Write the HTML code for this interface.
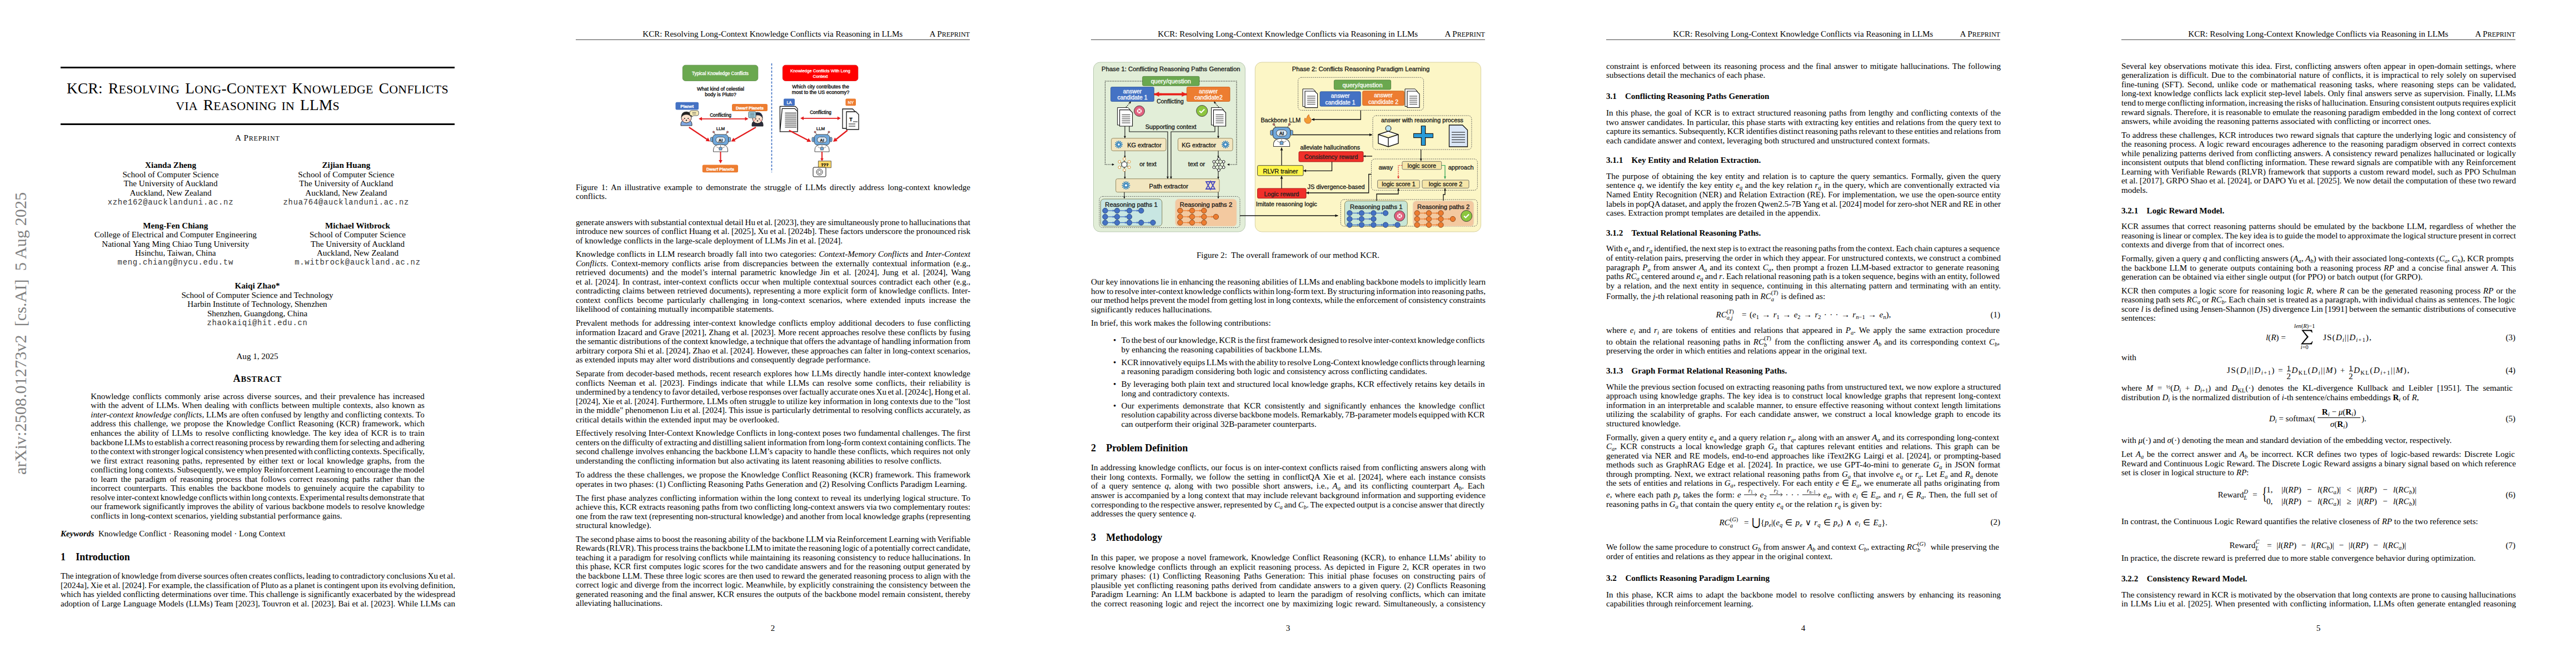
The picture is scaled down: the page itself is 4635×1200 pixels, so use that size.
<!DOCTYPE html><html><head><meta charset="utf-8"><style>
html,body{margin:0;padding:0;background:#fff;}
body{width:4635px;height:1200px;position:relative;overflow:hidden;color:#000;font-family:"Liberation Serif",serif;}
.L{position:absolute;white-space:nowrap;line-height:20px;}
.sc{font-size:80%;}
sub{font-size:70%;vertical-align:-0.25em;line-height:0}
sup{font-size:70%;vertical-align:0.45em;line-height:0}

</style></head><body>
<div class="L" style="top:148.89px;font-size:27.3px;left:463.50px;width:0;display:flex;justify-content:center;word-spacing:3px;letter-spacing:0.3px"><span>KCR: R<span class="sc">ESOLVING</span> L<span class="sc">ONG</span>-C<span class="sc">ONTEXT</span> K<span class="sc">NOWLEDGE</span> C<span class="sc">ONFLICTS</span></span></div>
<div class="L" style="top:178.89px;font-size:27.3px;left:463.50px;width:0;display:flex;justify-content:center;word-spacing:3px;letter-spacing:0.25px"><span><span class="sc">VIA</span> R<span class="sc">EASONING IN</span> LLM<span class="sc">S</span></span></div>
<div class="L" style="top:237.91px;font-size:15.1px;left:463.30px;width:0;display:flex;justify-content:center;letter-spacing:0.8px"><span>A P<span class="sc">REPRINT</span></span></div>
<div class="L" style="top:287.01px;font-size:15.1px;left:307.00px;width:0;display:flex;justify-content:center;"><span><b>Xianda Zheng</b></span></div>
<div class="L" style="top:303.56px;font-size:15.1px;left:307.00px;width:0;display:flex;justify-content:center;"><span>School of Computer Science</span></div>
<div class="L" style="top:320.11px;font-size:15.1px;left:307.00px;width:0;display:flex;justify-content:center;"><span>The University of Auckland</span></div>
<div class="L" style="top:336.66px;font-size:15.1px;left:307.00px;width:0;display:flex;justify-content:center;"><span>Auckland, New Zealand</span></div>
<div class="L" style="top:354.63px;font-size:13.8px;left:307.00px;width:0;display:flex;justify-content:center;font-family:'Liberation Mono', monospace;color:#333;letter-spacing:0.78px"><span>xzhe162@aucklanduni.ac.nz</span></div>
<div class="L" style="top:287.01px;font-size:15.1px;left:622.80px;width:0;display:flex;justify-content:center;"><span><b>Zijian Huang</b></span></div>
<div class="L" style="top:303.56px;font-size:15.1px;left:622.80px;width:0;display:flex;justify-content:center;"><span>School of Computer Science</span></div>
<div class="L" style="top:320.11px;font-size:15.1px;left:622.80px;width:0;display:flex;justify-content:center;"><span>The University of Auckland</span></div>
<div class="L" style="top:336.66px;font-size:15.1px;left:622.80px;width:0;display:flex;justify-content:center;"><span>Auckland, New Zealand</span></div>
<div class="L" style="top:354.63px;font-size:13.8px;left:622.80px;width:0;display:flex;justify-content:center;font-family:'Liberation Mono', monospace;color:#333;letter-spacing:0.78px"><span>zhua764@aucklanduni.ac.nz</span></div>
<div class="L" style="top:395.81px;font-size:15.1px;left:315.80px;width:0;display:flex;justify-content:center;"><span><b>Meng-Fen Chiang</b></span></div>
<div class="L" style="top:412.36px;font-size:15.1px;left:315.80px;width:0;display:flex;justify-content:center;"><span>College of Electrical and Computer Engineering</span></div>
<div class="L" style="top:428.91px;font-size:15.1px;left:315.80px;width:0;display:flex;justify-content:center;"><span>National Yang Ming Chiao Tung University</span></div>
<div class="L" style="top:445.46px;font-size:15.1px;left:315.80px;width:0;display:flex;justify-content:center;"><span>Hsinchu, Taiwan, China</span></div>
<div class="L" style="top:463.43px;font-size:13.8px;left:315.80px;width:0;display:flex;justify-content:center;font-family:'Liberation Mono', monospace;color:#333;letter-spacing:0.78px"><span>meng.chiang@nycu.edu.tw</span></div>
<div class="L" style="top:395.81px;font-size:15.1px;left:643.50px;width:0;display:flex;justify-content:center;"><span><b>Michael Witbrock</b></span></div>
<div class="L" style="top:412.36px;font-size:15.1px;left:643.50px;width:0;display:flex;justify-content:center;"><span>School of Computer Science</span></div>
<div class="L" style="top:428.91px;font-size:15.1px;left:643.50px;width:0;display:flex;justify-content:center;"><span>The University of Auckland</span></div>
<div class="L" style="top:445.46px;font-size:15.1px;left:643.50px;width:0;display:flex;justify-content:center;"><span>Auckland, New Zealand</span></div>
<div class="L" style="top:463.43px;font-size:13.8px;left:643.50px;width:0;display:flex;justify-content:center;font-family:'Liberation Mono', monospace;color:#333;letter-spacing:0.78px"><span>m.witbrock@auckland.ac.nz</span></div>
<div class="L" style="top:504.11px;font-size:15.1px;left:463.00px;width:0;display:flex;justify-content:center;"><span><b>Kaiqi Zhao*</b></span></div>
<div class="L" style="top:520.66px;font-size:15.1px;left:463.00px;width:0;display:flex;justify-content:center;"><span>School of Computer Science and Technology</span></div>
<div class="L" style="top:537.21px;font-size:15.1px;left:463.00px;width:0;display:flex;justify-content:center;"><span>Harbin Institute of Technology, Shenzhen</span></div>
<div class="L" style="top:553.76px;font-size:15.1px;left:463.00px;width:0;display:flex;justify-content:center;"><span>Shenzhen, Guangdong, China</span></div>
<div class="L" style="top:571.73px;font-size:13.8px;left:463.00px;width:0;display:flex;justify-content:center;font-family:'Liberation Mono', monospace;color:#333;letter-spacing:0.78px"><span>zhaokaiqi@hit.edu.cn</span></div>
<div class="L" style="top:631.11px;font-size:15.1px;left:463.00px;width:0;display:flex;justify-content:center;"><span>Aug 1, 2025</span></div>
<div class="L" style="top:671.23px;font-size:18px;left:463.30px;width:0;display:flex;justify-content:center;font-weight:bold;letter-spacing:0.8px"><span>A<span class="sc">BSTRACT</span></span></div>
<div class="L" style="top:702.81px;font-size:15.1px;left:163.30px;word-spacing:2.010px;"><span>Knowledge conflicts commonly arise across diverse sources, and their prevalence has increased</span></div>
<div class="L" style="top:719.36px;font-size:15.1px;left:163.30px;word-spacing:1.174px;"><span>with the advent of LLMs. When dealing with conflicts between multiple contexts, also known as</span></div>
<div class="L" style="top:735.91px;font-size:15.1px;left:163.30px;word-spacing:0.018px;"><span><i>inter-context knowledge conflicts</i>, LLMs are often confused by lengthy and conflicting contexts. To</span></div>
<div class="L" style="top:752.46px;font-size:15.1px;left:163.30px;word-spacing:1.432px;"><span>address this challenge, we propose the Knowledge Conflict Reasoning (KCR) framework, which</span></div>
<div class="L" style="top:769.01px;font-size:15.1px;left:163.30px;word-spacing:1.474px;"><span>enhances the ability of LLMs to resolve conflicting knowledge. The key idea of KCR is to train</span></div>
<div class="L" style="top:785.56px;font-size:15.1px;left:163.30px;word-spacing:-1.237px;"><span>backbone LLMs to establish a correct reasoning process by rewarding them for selecting and adhering</span></div>
<div class="L" style="top:802.11px;font-size:15.1px;left:163.30px;word-spacing:-1.573px;"><span>to the context with stronger logical consistency when presented with conflicting contexts. Specifically,</span></div>
<div class="L" style="top:818.66px;font-size:15.1px;left:163.30px;word-spacing:2.058px;"><span>we first extract reasoning paths, represented by either text or local knowledge graphs, from the</span></div>
<div class="L" style="top:835.21px;font-size:15.1px;left:163.30px;word-spacing:-0.763px;"><span>conflicting long contexts. Subsequently, we employ Reinforcement Learning to encourage the model</span></div>
<div class="L" style="top:851.76px;font-size:15.1px;left:163.30px;word-spacing:2.416px;"><span>to learn the paradigm of reasoning process that follows correct reasoning paths rather than the</span></div>
<div class="L" style="top:868.31px;font-size:15.1px;left:163.30px;word-spacing:2.180px;"><span>incorrect counterparts. This enables the backbone models to genuinely acquire the capability to</span></div>
<div class="L" style="top:884.86px;font-size:15.1px;left:163.30px;word-spacing:-1.244px;"><span>resolve inter-context knowledge conflicts within long contexts. Experimental results demonstrate that</span></div>
<div class="L" style="top:901.41px;font-size:15.1px;left:163.30px;word-spacing:0.021px;"><span>our framework significantly improves the ability of various backbone models to resolve knowledge</span></div>
<div class="L" style="top:917.96px;font-size:15.1px;left:163.30px;"><span>conflicts in long-context scenarios, yielding substantial performance gains.</span></div>
<div class="L" style="top:949.91px;font-size:15.1px;left:109.00px;"><span><b><i>Keywords</i></b>&nbsp; Knowledge Conflict · Reasoning model · Long Context</span></div>
<div class="L" style="top:991.53px;font-size:18px;left:109.00px;"><span><b>1</b></span></div>
<div class="L" style="top:991.53px;font-size:18px;left:136.20px;"><span><b>Introduction</b></span></div>
<div class="L" style="top:1026.01px;font-size:15.1px;left:109.00px;word-spacing:-1.049px;"><span>The integration of knowledge from diverse sources often creates conflicts, leading to contradictory conclusions Xu et al.</span></div>
<div class="L" style="top:1042.51px;font-size:15.1px;left:109.00px;word-spacing:-0.623px;"><span>[2024a], Xie et al. [2024]. For example, the classification of Pluto as a planet is contingent upon its evolving definition,</span></div>
<div class="L" style="top:1059.01px;font-size:15.1px;left:109.00px;word-spacing:-0.071px;"><span>which has yielded conflicting determinations over time. This challenge is significantly exacerbated by the widespread</span></div>
<div class="L" style="top:1075.51px;font-size:15.1px;left:109.00px;word-spacing:0.339px;"><span>adoption of Large Language Models (LLMs) Team [2023], Touvron et al. [2023], Bai et al. [2023]. While LLMs can</span></div>
<div class="L" style="top:50.61px;font-size:15.1px;left:1390.25px;width:0;display:flex;justify-content:center;"><span>KCR: Resolving Long-Context Knowledge Conflicts via Reasoning in LLMs</span></div>
<div class="L" style="top:50.61px;font-size:15.1px;right:2890.00px;"><span>A P<span class="sc">REPRINT</span></span></div>
<div class="L" style="top:1119.81px;font-size:15.1px;left:1390.50px;width:0;display:flex;justify-content:center;"><span>2</span></div>
<div class="L" style="top:50.61px;font-size:15.1px;left:2317.25px;width:0;display:flex;justify-content:center;"><span>KCR: Resolving Long-Context Knowledge Conflicts via Reasoning in LLMs</span></div>
<div class="L" style="top:50.61px;font-size:15.1px;right:1963.00px;"><span>A P<span class="sc">REPRINT</span></span></div>
<div class="L" style="top:1119.81px;font-size:15.1px;left:2317.50px;width:0;display:flex;justify-content:center;"><span>3</span></div>
<div class="L" style="top:50.61px;font-size:15.1px;left:3244.25px;width:0;display:flex;justify-content:center;"><span>KCR: Resolving Long-Context Knowledge Conflicts via Reasoning in LLMs</span></div>
<div class="L" style="top:50.61px;font-size:15.1px;right:1036.00px;"><span>A P<span class="sc">REPRINT</span></span></div>
<div class="L" style="top:1119.81px;font-size:15.1px;left:3244.50px;width:0;display:flex;justify-content:center;"><span>4</span></div>
<div class="L" style="top:50.61px;font-size:15.1px;left:4171.25px;width:0;display:flex;justify-content:center;"><span>KCR: Resolving Long-Context Knowledge Conflicts via Reasoning in LLMs</span></div>
<div class="L" style="top:50.61px;font-size:15.1px;right:109.00px;"><span>A P<span class="sc">REPRINT</span></span></div>
<div class="L" style="top:1119.81px;font-size:15.1px;left:4171.50px;width:0;display:flex;justify-content:center;"><span>5</span></div>
<div class="L" style="top:326.71px;font-size:15.1px;left:1036.00px;word-spacing:2.569px;"><span>Figure 1: An illustrative example to demonstrate the struggle of LLMs directly address long-context knowledge</span></div>
<div class="L" style="top:343.21px;font-size:15.1px;left:1036.00px;"><span>conflicts.</span></div>
<div class="L" style="top:389.71px;font-size:15.1px;left:1036.00px;word-spacing:-0.946px;"><span>generate answers with substantial contextual detail Hu et al. [2023], they are simultaneously prone to hallucinations that</span></div>
<div class="L" style="top:406.21px;font-size:15.1px;left:1036.00px;word-spacing:-0.265px;"><span>introduce new sources of conflict Huang et al. [2025], Xu et al. [2024b]. These factors underscore the pronounced risk</span></div>
<div class="L" style="top:422.71px;font-size:15.1px;left:1036.00px;"><span>of knowledge conflicts in the large-scale deployment of LLMs Jin et al. [2024].</span></div>
<div class="L" style="top:447.01px;font-size:15.1px;left:1036.00px;word-spacing:0.631px;"><span>Knowledge conflicts in LLM research broadly fall into two categories: <i>Context-Memory Conflicts</i> and <i>Inter-Context</i></span></div>
<div class="L" style="top:463.51px;font-size:15.1px;left:1036.00px;word-spacing:2.017px;"><span><i>Conflicts</i>. Context-memory conflicts arise from discrepancies between the externally contextual information (e.g.,</span></div>
<div class="L" style="top:480.01px;font-size:15.1px;left:1036.00px;word-spacing:2.554px;"><span>retrieved documents) and the model’s internal parametric knowledge Jin et al. [2024], Jung et al. [2024], Wang</span></div>
<div class="L" style="top:496.51px;font-size:15.1px;left:1036.00px;word-spacing:1.110px;"><span>et al. [2024]. In contrast, inter-context conflicts occur when multiple contextual sources contradict each other (e.g.,</span></div>
<div class="L" style="top:513.01px;font-size:15.1px;left:1036.00px;word-spacing:0.701px;"><span>contradicting claims between retrieved documents), representing a more explicit form of knowledge conflicts. Inter-</span></div>
<div class="L" style="top:529.51px;font-size:15.1px;left:1036.00px;word-spacing:3.109px;"><span>context conflicts become particularly challenging in long-context scenarios, where extended inputs increase the</span></div>
<div class="L" style="top:546.01px;font-size:15.1px;left:1036.00px;"><span>likelihood of containing mutually incompatible statements.</span></div>
<div class="L" style="top:571.11px;font-size:15.1px;left:1036.00px;word-spacing:1.488px;"><span>Prevalent methods for addressing inter-context knowledge conflicts employ additional decoders to fuse conflicting</span></div>
<div class="L" style="top:587.61px;font-size:15.1px;left:1036.00px;word-spacing:0.395px;"><span>information Izacard and Grave [2021], Zhang et al. [2023]. More recent approaches resolve these conflicts by fusing</span></div>
<div class="L" style="top:604.11px;font-size:15.1px;left:1036.00px;word-spacing:-0.745px;"><span>the semantic distributions of the context knowledge, a technique that offers the advantage of handling information from</span></div>
<div class="L" style="top:620.61px;font-size:15.1px;left:1036.00px;word-spacing:-0.037px;"><span>arbitrary corpora Shi et al. [2024], Zhao et al. [2024]. However, these approaches can falter in long-context scenarios,</span></div>
<div class="L" style="top:637.11px;font-size:15.1px;left:1036.00px;"><span>as extended inputs may alter word distributions and consequently degrade performance.</span></div>
<div class="L" style="top:662.11px;font-size:15.1px;left:1036.00px;word-spacing:0.855px;"><span>Separate from decoder-based methods, recent research explores how LLMs directly handle inter-context knowledge</span></div>
<div class="L" style="top:678.61px;font-size:15.1px;left:1036.00px;word-spacing:2.170px;"><span>conflicts Neeman et al. [2023]. Findings indicate that while LLMs can resolve some conflicts, their reliability is</span></div>
<div class="L" style="top:695.11px;font-size:15.1px;left:1036.00px;word-spacing:-1.168px;"><span>undermined by a tendency to favor detailed, verbose responses over factually accurate ones Xu et al. [2024c], Hong et al.</span></div>
<div class="L" style="top:711.61px;font-size:15.1px;left:1036.00px;word-spacing:-0.264px;"><span>[2024], Xie et al. [2024]. Furthermore, LLMs often struggle to utilize key information in long contexts due to the "lost</span></div>
<div class="L" style="top:728.11px;font-size:15.1px;left:1036.00px;word-spacing:-0.194px;"><span>in the middle" phenomenon Liu et al. [2024]. This issue is particularly detrimental to resolving conflicts accurately, as</span></div>
<div class="L" style="top:744.61px;font-size:15.1px;left:1036.00px;"><span>critical details within the extended input may be overlooked.</span></div>
<div class="L" style="top:769.31px;font-size:15.1px;left:1036.00px;word-spacing:0.100px;"><span>Effectively resolving Inter-Context Knowledge Conflicts in long-context poses two fundamental challenges. The first</span></div>
<div class="L" style="top:785.81px;font-size:15.1px;left:1036.00px;word-spacing:-1.029px;"><span>centers on the difficulty of extracting and distilling salient information from long-form context containing conflicts. The</span></div>
<div class="L" style="top:802.31px;font-size:15.1px;left:1036.00px;word-spacing:0.109px;"><span>second challenge involves enhancing the backbone LLM’s capacity to handle these conflicts, which requires not only</span></div>
<div class="L" style="top:818.81px;font-size:15.1px;left:1036.00px;"><span>understanding the conflicting information but also activating its latent reasoning abilities to resolve conflicts.</span></div>
<div class="L" style="top:844.21px;font-size:15.1px;left:1036.00px;word-spacing:0.629px;"><span>To address the these challenges, we propose the Knowledge Conflict Reasoning (KCR) framework. This framework</span></div>
<div class="L" style="top:860.71px;font-size:15.1px;left:1036.00px;"><span>operates in two phases: (1) Conflicting Reasoning Paths Generation and (2) Resolving Conflicts Paradigm Learning.</span></div>
<div class="L" style="top:885.51px;font-size:15.1px;left:1036.00px;word-spacing:0.577px;"><span>The first phase analyzes conflicting information within the long context to reveal its underlying logical structure. To</span></div>
<div class="L" style="top:902.01px;font-size:15.1px;left:1036.00px;word-spacing:-0.095px;"><span>achieve this, KCR extracts reasoning paths from two conflicting long-context answers via two complementary routes:</span></div>
<div class="L" style="top:918.51px;font-size:15.1px;left:1036.00px;word-spacing:-0.359px;"><span>one from the raw text (representing non-structural knowledge) and another from local knowledge graphs (representing</span></div>
<div class="L" style="top:935.01px;font-size:15.1px;left:1036.00px;"><span>structural knowledge).</span></div>
<div class="L" style="top:959.51px;font-size:15.1px;left:1036.00px;word-spacing:-0.701px;"><span>The second phase aims to boost the reasoning ability of the backbone LLM via Reinforcement Learning with Verifiable</span></div>
<div class="L" style="top:976.01px;font-size:15.1px;left:1036.00px;word-spacing:-1.260px;"><span>Rewards (RLVR). This process trains the backbone LLM to imitate the reasoning logic of a potentially correct candidate,</span></div>
<div class="L" style="top:992.51px;font-size:15.1px;left:1036.00px;word-spacing:0.164px;"><span>teaching it a paradigm for resolving conflicts while maintaining its reasoning consistency to reduce hallucinations. In</span></div>
<div class="L" style="top:1009.01px;font-size:15.1px;left:1036.00px;word-spacing:0.392px;"><span>this phase, KCR first computes logic scores for the two candidate answers and for the reasoning output generated by</span></div>
<div class="L" style="top:1025.51px;font-size:15.1px;left:1036.00px;word-spacing:-0.073px;"><span>the backbone LLM. These three logic scores are then used to reward the generated reasoning process to align with the</span></div>
<div class="L" style="top:1042.01px;font-size:15.1px;left:1036.00px;word-spacing:0.214px;"><span>correct logic and diverge from the incorrect logic. Meanwhile, by explicitly constraining the consistency between the</span></div>
<div class="L" style="top:1058.51px;font-size:15.1px;left:1036.00px;word-spacing:0.088px;"><span>generated reasoning and the final answer, KCR ensures the outputs of the backbone model remain consistent, thereby</span></div>
<div class="L" style="top:1075.01px;font-size:15.1px;left:1036.00px;"><span>alleviating hallucinations.</span></div>
<div class="L" style="top:449.11px;font-size:15.1px;left:2317.50px;width:0;display:flex;justify-content:center;"><span>Figure 2:&nbsp; The overall framework of our method KCR.</span></div>
<div class="L" style="top:497.11px;font-size:15.1px;left:1963.00px;word-spacing:-0.572px;"><span>Our key innovations lie in enhancing the reasoning abilities of LLMs and enabling backbone models to implicitly learn</span></div>
<div class="L" style="top:513.61px;font-size:15.1px;left:1963.00px;word-spacing:-1.243px;"><span>how to resolve inter-context knowledge conflicts within long-form text. By structuring information into reasoning paths,</span></div>
<div class="L" style="top:530.11px;font-size:15.1px;left:1963.00px;word-spacing:-0.844px;"><span>our method helps prevent the model from getting lost in long contexts, while the enforcement of consistency constraints</span></div>
<div class="L" style="top:546.61px;font-size:15.1px;left:1963.00px;"><span>significantly reduces hallucinations.</span></div>
<div class="L" style="top:571.21px;font-size:15.1px;left:1963.00px;"><span>In brief, this work makes the following contributions:</span></div>
<div class="L" style="top:602.41px;font-size:15.1px;left:2003.00px;"><span>•</span></div>
<div class="L" style="top:602.41px;font-size:15.1px;left:2017.50px;word-spacing:-1.350px;"><span>To the best of our knowledge, KCR is the first framework designed to resolve inter-context knowledge conflicts</span></div>
<div class="L" style="top:618.91px;font-size:15.1px;left:2017.50px;"><span>by enhancing the reasoning capabilities of backbone LLMs.</span></div>
<div class="L" style="top:641.71px;font-size:15.1px;left:2003.00px;"><span>•</span></div>
<div class="L" style="top:641.71px;font-size:15.1px;left:2017.50px;word-spacing:-1.320px;"><span>KCR innovatively equips LLMs with the ability to resolve Long-Context knowledge conflicts through learning</span></div>
<div class="L" style="top:658.21px;font-size:15.1px;left:2017.50px;"><span>a reasoning paradigm considering both logic and consistency across conflicting candidates.</span></div>
<div class="L" style="top:681.11px;font-size:15.1px;left:2003.00px;"><span>•</span></div>
<div class="L" style="top:681.11px;font-size:15.1px;left:2017.50px;word-spacing:0.418px;"><span>By leveraging both plain text and structured local knowledge graphs, KCR effectively retains key details in</span></div>
<div class="L" style="top:697.61px;font-size:15.1px;left:2017.50px;"><span>long and contradictory contexts.</span></div>
<div class="L" style="top:719.91px;font-size:15.1px;left:2003.00px;"><span>•</span></div>
<div class="L" style="top:719.91px;font-size:15.1px;left:2017.50px;word-spacing:2.943px;"><span>Our experiments demonstrate that KCR consistently and significantly enhances the knowledge conflict</span></div>
<div class="L" style="top:736.41px;font-size:15.1px;left:2017.50px;word-spacing:-0.930px;"><span>resolution capability across diverse backbone models. Remarkably, 7B-parameter models equipped with KCR</span></div>
<div class="L" style="top:752.91px;font-size:15.1px;left:2017.50px;"><span>can outperform their original 32B-parameter counterparts.</span></div>
<div class="L" style="top:796.33px;font-size:18px;left:1963.00px;"><span><b>2</b></span></div>
<div class="L" style="top:796.33px;font-size:18px;left:1990.20px;"><span><b>Problem Definition</b></span></div>
<div class="L" style="top:831.21px;font-size:15.1px;left:1963.00px;word-spacing:0.519px;"><span>In addressing knowledge conflicts, our focus is on inter-context conflicts raised from conflicting answers along with</span></div>
<div class="L" style="top:847.81px;font-size:15.1px;left:1963.00px;word-spacing:1.853px;"><span>their long contexts. Formally, we follow the setting in conflictQA Xie et al. [2024], where each instance consists</span></div>
<div class="L" style="top:864.41px;font-size:15.1px;left:1963.00px;word-spacing:2.926px;"><span>of a query sentence <i>q</i>, along with two possible short answers, i.e., <i>A<sub>a</sub></i> and its conflicting counterpart <i>A<sub>b</sub></i>. Each</span></div>
<div class="L" style="top:881.01px;font-size:15.1px;left:1963.00px;word-spacing:0.250px;"><span>answer is accompanied by a long context that may include relevant background information and supporting evidence</span></div>
<div class="L" style="top:897.61px;font-size:15.1px;left:1963.00px;word-spacing:-0.746px;"><span>corresponding to the respective answer, represented by <i>C<sub>a</sub></i> and <i>C<sub>b</sub></i>. The expected output is a concise answer that directly</span></div>
<div class="L" style="top:914.21px;font-size:15.1px;left:1963.00px;"><span>addresses the query sentence <i>q</i>.</span></div>
<div class="L" style="top:957.23px;font-size:18px;left:1963.00px;"><span><b>3</b></span></div>
<div class="L" style="top:957.23px;font-size:18px;left:1990.20px;"><span><b>Methodology</b></span></div>
<div class="L" style="top:993.31px;font-size:15.1px;left:1963.00px;word-spacing:1.387px;"><span>In this paper, we propose a novel framework, Knowledge Conflict Reasoning (KCR), to enhance LLMs’ ability to</span></div>
<div class="L" style="top:1009.81px;font-size:15.1px;left:1963.00px;word-spacing:1.775px;"><span>resolve knowledge conflicts through an explicit reasoning process. As depicted in Figure 2, KCR operates in two</span></div>
<div class="L" style="top:1026.31px;font-size:15.1px;left:1963.00px;word-spacing:2.706px;"><span>primary phases: (1) Conflicting Reasoning Paths Generation: This initial phase focuses on constructing pairs of</span></div>
<div class="L" style="top:1042.81px;font-size:15.1px;left:1963.00px;word-spacing:1.179px;"><span>plausible yet conflicting reasoning paths derived from candidate answers to a given query. (2) Conflicts Reasoning</span></div>
<div class="L" style="top:1059.31px;font-size:15.1px;left:1963.00px;word-spacing:1.700px;"><span>Paradigm Learning: An LLM backbone is adapted to learn the paradigm of resolving conflicts, which can imitate</span></div>
<div class="L" style="top:1075.81px;font-size:15.1px;left:1963.00px;word-spacing:1.210px;"><span>the correct reasoning logic and reject the incorrect one by maximizing logic reward. Simultaneously, a consistency</span></div>
<div class="L" style="top:108.81px;font-size:15.1px;left:2890.00px;word-spacing:1.356px;"><span>constraint is enforced between its reasoning process and the final answer to mitigate hallucinations. The following</span></div>
<div class="L" style="top:125.31px;font-size:15.1px;left:2890.00px;"><span>subsections detail the mechanics of each phase.</span></div>
<div class="L" style="top:162.61px;font-size:15.1px;left:2890.00px;"><span><b>3.1</b></span></div>
<div class="L" style="top:162.61px;font-size:15.1px;left:2923.90px;"><span><b>Conflicting Reasoning Paths Generation</b></span></div>
<div class="L" style="top:193.41px;font-size:15.1px;left:2890.00px;word-spacing:1.099px;"><span>In this phase, the goal of KCR is to extract structured reasoning paths from lengthy and conflicting contexts of the</span></div>
<div class="L" style="top:209.91px;font-size:15.1px;left:2890.00px;word-spacing:0.264px;"><span>two answer candidates. In particular, this phase starts with extracting key entities and relations from the query text to</span></div>
<div class="L" style="top:226.41px;font-size:15.1px;left:2890.00px;word-spacing:-0.863px;"><span>capture its semantics. Subsequently, KCR identifies distinct reasoning paths relevant to these entities and relations from</span></div>
<div class="L" style="top:242.91px;font-size:15.1px;left:2890.00px;"><span>each candidate answer and context, leveraging both structured and unstructured context formats.</span></div>
<div class="L" style="top:278.31px;font-size:15.1px;left:2890.00px;"><span><b>3.1.1</b></span></div>
<div class="L" style="top:278.31px;font-size:15.1px;left:2935.60px;"><span><b>Key Entity and Relation Extraction.</b></span></div>
<div class="L" style="top:306.81px;font-size:15.1px;left:2890.00px;word-spacing:1.774px;"><span>The purpose of obtaining the key entity and relation is to capture the query semantics. Formally, given the query</span></div>
<div class="L" style="top:323.41px;font-size:15.1px;left:2890.00px;word-spacing:0.634px;"><span>sentence <i>q</i>, we identify the key entity <i>e</i><sub><i>q</i></sub> and the key relation <i>r</i><sub><i>q</i></sub> in the query, which are conventionally extracted via</span></div>
<div class="L" style="top:340.01px;font-size:15.1px;left:2890.00px;word-spacing:0.713px;"><span>Named Entity Recognition (NER) and Relation Extraction (RE). For implementation, we use the open-source entity</span></div>
<div class="L" style="top:356.61px;font-size:15.1px;left:2890.00px;word-spacing:-0.675px;"><span>labels in popQA dataset, and apply the frozen Qwen2.5-7B Yang et al. [2024] model for zero-shot NER and RE in other</span></div>
<div class="L" style="top:373.21px;font-size:15.1px;left:2890.00px;"><span>cases. Extraction prompt templates are detailed in the appendix.</span></div>
<div class="L" style="top:409.01px;font-size:15.1px;left:2890.00px;"><span><b>3.1.2</b></span></div>
<div class="L" style="top:409.01px;font-size:15.1px;left:2935.60px;"><span><b>Textual Relational Reasoning Paths.</b></span></div>
<div class="L" style="top:437.41px;font-size:15.1px;left:2890.00px;word-spacing:-0.911px;"><span>With <i>e</i><sub><i>q</i></sub> and <i>r</i><sub><i>q</i></sub> identified, the next step is to extract the reasoning paths from the context. Each chain captures a sequence</span></div>
<div class="L" style="top:453.96px;font-size:15.1px;left:2890.00px;word-spacing:-0.186px;"><span>of entity-relation pairs, preserving the order in which they appear. For unstructured contexts, we construct a combined</span></div>
<div class="L" style="top:470.51px;font-size:15.1px;left:2890.00px;word-spacing:1.204px;"><span>paragraph <i>P</i><sub><i>a</i></sub> from answer <i>A</i><sub><i>a</i></sub> and its context <i>C</i><sub><i>a</i></sub>, then prompt a frozen LLM-based extractor to generate reasoning</span></div>
<div class="L" style="top:487.06px;font-size:15.1px;left:2890.00px;word-spacing:-0.483px;"><span>paths <i>RC</i><sub><i>a</i></sub> centered around <i>e</i><sub><i>q</i></sub> and <i>r</i>. Each relational reasoning path is a token sequence, begins with an entity, followed</span></div>
<div class="L" style="top:503.61px;font-size:15.1px;left:2890.00px;word-spacing:1.378px;"><span>by a relation, and the next entity in sequence, continuing in this alternating pattern and terminating with an entity.</span></div>
<div class="L" style="top:522.71px;font-size:15.1px;left:2890.00px;"><span>Formally, the <i>j</i>-th relational reasoning path in <i>RC</i><span style="display:inline-block;position:relative;width:14px;height:0"><span style="position:absolute;left:0;top:-10.5px;font-size:10.5px;line-height:0">(<i>T</i>)</span><span style="position:absolute;left:0;top:1px;font-size:10.5px;line-height:0"><i>a</i></span></span> is defined as:</span></div>
<div class="L" style="top:556.01px;font-size:15.1px;left:3087.50px;word-spacing:1.552px;"><span><i>RC</i><span style="display:inline-block;position:relative;width:22px;height:0"><span style="position:absolute;left:0;top:-10.5px;font-size:10.5px;line-height:0">(<i>T</i>)</span><span style="position:absolute;left:0;top:1px;font-size:10.5px;line-height:0"><i>a,j</i></span></span> = (<i>e</i><sub>1</sub> → <i>r</i><sub>1</sub> → <i>e</i><sub>2</sub> → <i>r</i><sub>2</sub> · · · → <i>r</i><sub><i>n</i>−1</sub> → <i>e<sub>n</sub></i>),</span></div>
<div class="L" style="top:556.01px;font-size:15.1px;right:1036.00px;"><span>(1)</span></div>
<div class="L" style="top:584.41px;font-size:15.1px;left:2890.00px;word-spacing:2.157px;"><span>where <i>e</i><sub><i>i</i></sub> and <i>r</i><sub><i>i</i></sub> are tokens of entities and relations that appeared in <i>P</i><sub><i>a</i></sub>. We apply the same extraction procedure</span></div>
<div class="L" style="top:604.71px;font-size:15.1px;left:2890.00px;word-spacing:1.584px;"><span>to obtain the relational reasoning paths in <i>RC</i><span style="display:inline-block;position:relative;width:14px;height:0"><span style="position:absolute;left:0;top:-10.5px;font-size:10.5px;line-height:0">(<i>T</i>)</span><span style="position:absolute;left:0;top:1px;font-size:10.5px;line-height:0"><i>b</i></span></span> from the conflicting answer <i>A</i><sub><i>b</i></sub> and its corresponding context <i>C</i><sub><i>b</i></sub>,</span></div>
<div class="L" style="top:621.41px;font-size:15.1px;left:2890.00px;"><span>preserving the order in which entities and relations appear in the original text.</span></div>
<div class="L" style="top:657.31px;font-size:15.1px;left:2890.00px;"><span><b>3.1.3</b></span></div>
<div class="L" style="top:657.31px;font-size:15.1px;left:2935.60px;"><span><b>Graph Format Relational Reasoning Paths.</b></span></div>
<div class="L" style="top:685.71px;font-size:15.1px;left:2890.00px;word-spacing:-0.028px;"><span>While the previous section focused on extracting reasoning paths from unstructured text, we now explore a structured</span></div>
<div class="L" style="top:702.26px;font-size:15.1px;left:2890.00px;word-spacing:1.190px;"><span>approach using knowledge graphs. The key idea is to construct local knowledge graphs that represent long-context</span></div>
<div class="L" style="top:718.81px;font-size:15.1px;left:2890.00px;word-spacing:0.690px;"><span>information in an interpretable and scalable manner, to ensure effective reasoning without context length limitations</span></div>
<div class="L" style="top:735.36px;font-size:15.1px;left:2890.00px;word-spacing:1.637px;"><span>utilizing the scalability of graphs. For each candidate answer, we construct a local knowledge graph to encode its</span></div>
<div class="L" style="top:751.91px;font-size:15.1px;left:2890.00px;"><span>structured knowledge.</span></div>
<div class="L" style="top:776.61px;font-size:15.1px;left:2890.00px;word-spacing:0.088px;"><span>Formally, given a query entity <i>e</i><sub><i>q</i></sub> and a query relation <i>r</i><sub><i>q</i></sub>, along with an answer <i>A</i><sub><i>a</i></sub> and its corresponding long-context</span></div>
<div class="L" style="top:793.16px;font-size:15.1px;left:2890.00px;word-spacing:2.403px;"><span><i>C</i><sub><i>a</i></sub>, KCR constructs a local knowledge graph <i>G</i><sub><i>a</i></sub> that captures relevant entities and relations. This graph can be</span></div>
<div class="L" style="top:809.71px;font-size:15.1px;left:2890.00px;word-spacing:1.372px;"><span>generated via NER and RE models, end-to-end approaches like iText2KG Lairgi et al. [2024], or prompting-based</span></div>
<div class="L" style="top:826.26px;font-size:15.1px;left:2890.00px;word-spacing:1.701px;"><span>methods such as GraphRAG Edge et al. [2024]. In practice, we use GPT-4o-mini to generate <i>G</i><sub><i>a</i></sub> in JSON format</span></div>
<div class="L" style="top:842.81px;font-size:15.1px;left:2890.00px;word-spacing:0.851px;"><span>through prompting. Next, we extract relational reasoning paths from <i>G</i><sub><i>a</i></sub> that involve <i>e</i><sub><i>q</i></sub> or <i>r</i><sub><i>q</i></sub>. Let <i>E</i><sub><i>a</i></sub> and <i>R</i><sub><i>a</i></sub> denote</span></div>
<div class="L" style="top:859.36px;font-size:15.1px;left:2890.00px;word-spacing:0.505px;"><span>the sets of entities and relations in <i>G</i><sub><i>a</i></sub>, respectively. For each entity <i>e</i> ∈ <i>E</i><sub><i>a</i></sub>, we enumerate all paths originating from</span></div>
<div class="L" style="top:879.91px;font-size:15.1px;left:2890.00px;word-spacing:1.198px;"><span><i>e</i>, where each path <i>p</i><sub><i>e</i></sub> takes the form: <i>e</i> <span style="display:inline-block;position:relative;width:24px;height:0"><span style="position:absolute;left:0;right:0;top:-11.5px;text-align:center;font-size:10.5px;line-height:0"><i>r</i><sub>1</sub><i></i></span><svg width="24" height="8" style="position:absolute;left:0;top:-8.5px"><line x1="0" y1="4" x2="23" y2="4" stroke="#000" stroke-width="0.9"/><path d="M20 1.2 Q22 3.3 23 4 Q22 4.7 20 6.8" fill="none" stroke="#000" stroke-width="0.9"/></svg></span> <i>e</i><sub>2</sub> <span style="display:inline-block;position:relative;width:24px;height:0"><span style="position:absolute;left:0;right:0;top:-11.5px;text-align:center;font-size:10.5px;line-height:0"><i>r</i><sub>2</sub><i></i></span><svg width="24" height="8" style="position:absolute;left:0;top:-8.5px"><line x1="0" y1="4" x2="23" y2="4" stroke="#000" stroke-width="0.9"/><path d="M20 1.2 Q22 3.3 23 4 Q22 4.7 20 6.8" fill="none" stroke="#000" stroke-width="0.9"/></svg></span> · · · <span style="display:inline-block;position:relative;width:33px;height:0"><span style="position:absolute;left:0;right:0;top:-11.5px;text-align:center;font-size:10.5px;line-height:0"><i>r</i><sub>n−1</sub><i></i></span><svg width="33" height="8" style="position:absolute;left:0;top:-8.5px"><line x1="0" y1="4" x2="32" y2="4" stroke="#000" stroke-width="0.9"/><path d="M29 1.2 Q31 3.3 32 4 Q31 4.7 29 6.8" fill="none" stroke="#000" stroke-width="0.9"/></svg></span> <i>e<sub>n</sub></i>, with <i>e</i><sub><i>i</i></sub> ∈ <i>E</i><sub><i>a</i></sub>, and <i>r</i><sub><i>i</i></sub> ∈ <i>R</i><sub><i>a</i></sub>. Then, the full set of</span></div>
<div class="L" style="top:896.71px;font-size:15.1px;left:2890.00px;"><span>reasoning paths in <i>G</i><sub><i>a</i></sub> that contain the query entity <i>e</i><sub><i>q</i></sub> or the relation <i>r</i><sub><i>q</i></sub> is given by:</span></div>
<div class="L" style="top:929.41px;font-size:15.1px;left:3093.40px;word-spacing:1.434px;"><span><i>RC</i><span style="display:inline-block;position:relative;width:20px;height:0"><span style="position:absolute;left:0;top:-10.5px;font-size:10.5px;line-height:0">(<i>G</i>)</span><span style="position:absolute;left:0;top:1px;font-size:10.5px;line-height:0"><i>a</i></span></span> = <span style="font-size:19px;position:relative;top:1px">⋃</span>{<i>p</i><sub><i>e</i></sub>|(<i>e</i><sub><i>q</i></sub> ∈ <i>p</i><sub><i>e</i></sub> ∨ <i>r</i><sub><i>q</i></sub> ∈ <i>p</i><sub><i>e</i></sub>) ∧ <i>e</i><sub><i>i</i></sub> ∈ <i>E</i><sub><i>a</i></sub>}.</span></div>
<div class="L" style="top:929.41px;font-size:15.1px;right:1036.00px;"><span>(2)</span></div>
<div class="L" style="top:974.21px;font-size:15.1px;left:2890.00px;word-spacing:-0.025px;"><span>We follow the same procedure to construct <i>G</i><sub><i>b</i></sub> from answer <i>A</i><sub><i>b</i></sub> and context <i>C</i><sub><i>b</i></sub>, extracting <i>RC</i><span style="display:inline-block;position:relative;width:20px;height:0"><span style="position:absolute;left:0;top:-10.5px;font-size:10.5px;line-height:0">(<i>G</i>)</span><span style="position:absolute;left:0;top:1px;font-size:10.5px;line-height:0"><i>b</i></span></span> while preserving the</span></div>
<div class="L" style="top:990.61px;font-size:15.1px;left:2890.00px;"><span>order of entities and relations as they appear in the original context.</span></div>
<div class="L" style="top:1029.61px;font-size:15.1px;left:2890.00px;"><span><b>3.2</b></span></div>
<div class="L" style="top:1029.61px;font-size:15.1px;left:2924.40px;"><span><b>Conflicts Reasoning Paradigm Learning</b></span></div>
<div class="L" style="top:1059.91px;font-size:15.1px;left:2890.00px;word-spacing:2.116px;"><span>In this phase, KCR aims to adapt the backbone model to resolve conflicting answers by enhancing its reasoning</span></div>
<div class="L" style="top:1076.41px;font-size:15.1px;left:2890.00px;"><span>capabilities through reinforcement learning.</span></div>
<div class="L" style="top:108.81px;font-size:15.1px;left:3817.00px;word-spacing:1.103px;"><span>Several key observations motivate this idea. First, conflicting answers often appear in open-domain settings, where</span></div>
<div class="L" style="top:125.36px;font-size:15.1px;left:3817.00px;word-spacing:0.926px;"><span>generalization is difficult. Due to the combinatorial nature of conflicts, it is impractical to rely solely on supervised</span></div>
<div class="L" style="top:141.91px;font-size:15.1px;left:3817.00px;word-spacing:2.093px;"><span>fine-tuning (SFT). Second, unlike code or mathematical reasoning tasks, where reasoning steps can be validated,</span></div>
<div class="L" style="top:158.46px;font-size:15.1px;left:3817.00px;word-spacing:0.633px;"><span>long-text knowledge conflicts lack explicit step-level labels. Only final answers serve as supervision. Finally, LLMs</span></div>
<div class="L" style="top:175.01px;font-size:15.1px;left:3817.00px;word-spacing:-1.125px;"><span>tend to merge conflicting information, increasing the risks of hallucination. Ensuring consistent outputs requires explicit</span></div>
<div class="L" style="top:191.56px;font-size:15.1px;left:3817.00px;word-spacing:0.041px;"><span>reward signals. Therefore, it is reasonable to emulate the reasoning paradigm embedded in the long context of correct</span></div>
<div class="L" style="top:208.11px;font-size:15.1px;left:3817.00px;"><span>answers, while avoiding the reasoning patterns associated with conflicting or incorrect ones.</span></div>
<div class="L" style="top:232.71px;font-size:15.1px;left:3817.00px;word-spacing:0.246px;"><span>To address these challenges, KCR introduces two reward signals that capture the underlying logic and consistency of</span></div>
<div class="L" style="top:249.21px;font-size:15.1px;left:3817.00px;word-spacing:0.840px;"><span>the reasoning process. A logic reward encourages adherence to the reasoning paradigm observed in correct contexts</span></div>
<div class="L" style="top:265.71px;font-size:15.1px;left:3817.00px;word-spacing:0.579px;"><span>while penalizing patterns derived from conflicting answers. A consistency reward penalizes hallucinated or logically</span></div>
<div class="L" style="top:282.21px;font-size:15.1px;left:3817.00px;word-spacing:0.339px;"><span>inconsistent outputs that blend conflicting information. These reward signals are compatible with any Reinforcement</span></div>
<div class="L" style="top:298.71px;font-size:15.1px;left:3817.00px;word-spacing:0.607px;"><span>Learning with Verifiable Rewards (RLVR) framework that supports a custom reward model, such as PPO Schulman</span></div>
<div class="L" style="top:315.21px;font-size:15.1px;left:3817.00px;word-spacing:-0.140px;"><span>et al. [2017], GRPO Shao et al. [2024], or DAPO Yu et al. [2025]. We now detail the computation of these two reward</span></div>
<div class="L" style="top:331.71px;font-size:15.1px;left:3817.00px;"><span>models.</span></div>
<div class="L" style="top:368.61px;font-size:15.1px;left:3817.00px;"><span><b>3.2.1</b></span></div>
<div class="L" style="top:368.61px;font-size:15.1px;left:3862.60px;"><span><b>Logic Reward Model.</b></span></div>
<div class="L" style="top:397.01px;font-size:15.1px;left:3817.00px;word-spacing:1.229px;"><span>KCR assumes that correct reasoning patterns should be emulated by the backbone LLM, regardless of whether the</span></div>
<div class="L" style="top:413.56px;font-size:15.1px;left:3817.00px;word-spacing:-0.762px;"><span>reasoning is linear or complex. The key idea is to guide the model to approximate the logical structure present in correct</span></div>
<div class="L" style="top:430.11px;font-size:15.1px;left:3817.00px;"><span>contexts and diverge from that of incorrect ones.</span></div>
<div class="L" style="top:455.11px;font-size:15.1px;left:3817.00px;word-spacing:-0.275px;"><span>Formally, given a query <i>q</i> and conflicting answers (<i>A</i><sub><i>a</i></sub>, <i>A</i><sub><i>b</i></sub>) with their associated long-contexts (<i>C</i><sub><i>a</i></sub>, <i>C</i><sub><i>b</i></sub>), KCR prompts</span></div>
<div class="L" style="top:471.66px;font-size:15.1px;left:3817.00px;word-spacing:1.292px;"><span>the backbone LLM to generate outputs containing both a reasoning process <i>RP</i> and a concise final answer <i>A</i>. This</span></div>
<div class="L" style="top:488.21px;font-size:15.1px;left:3817.00px;"><span>generation can be obtained via either single output (for PPO) or batch output (for GRPO).</span></div>
<div class="L" style="top:512.71px;font-size:15.1px;left:3817.00px;word-spacing:0.982px;"><span>KCR then computes a logic score for reasoning logic <i>R</i>, where <i>R</i> can be the generated reasoning process <i>RP</i> or the</span></div>
<div class="L" style="top:529.21px;font-size:15.1px;left:3817.00px;word-spacing:-0.431px;"><span>reasoning path sets <i>RC</i><sub><i>a</i></sub> or <i>RC</i><sub><i>b</i></sub>. Each chain set is treated as a paragraph, with individual chains as sentences. The logic</span></div>
<div class="L" style="top:545.71px;font-size:15.1px;left:3817.00px;word-spacing:-0.127px;"><span>score <i>l</i> is defined using Jensen-Shannon (JS) divergence Lin [1991] between the semantic distributions of consecutive</span></div>
<div class="L" style="top:562.21px;font-size:15.1px;left:3817.00px;"><span>sentences:</span></div>
<div class="L" style="top:596.61px;font-size:15.1px;left:4076.90px;"><span><i>l</i>(<i>R</i>) =</span></div>
<div class="L" style="top:576.76px;font-size:10.5px;left:4146.50px;width:0;display:flex;justify-content:center;"><span><i>len</i>(<i>R</i>)−1</span></div>
<div class="L" style="top:615.26px;font-size:10.5px;left:4146.50px;width:0;display:flex;justify-content:center;"><span><i>i</i>=0</span></div>
<div class="L" style="top:596.61px;font-size:15.1px;left:4180.00px;letter-spacing:1.137px;"><span>JS(<i>D</i><sub><i>i</i></sub>||<i>D</i><sub><i>i</i>+1</sub>),</span></div>
<div class="L" style="top:596.61px;font-size:15.1px;right:109.00px;"><span>(3)</span></div>
<div class="L" style="top:632.91px;font-size:15.1px;left:3817.00px;"><span>with</span></div>
<div class="L" style="top:656.21px;font-size:15.1px;left:4006.80px;letter-spacing:1.467px;"><span>JS(<i>D</i><sub><i>i</i></sub>||<i>D</i><sub><i>i</i>+1</sub>) = <span style="display:inline-block;position:relative;width:9px;height:0;vertical-align:0.3em"><span style="position:absolute;left:0;right:0;top:-4px;text-align:center;line-height:0">1</span><span style="position:absolute;left:1px;right:1px;top:0;border-top:1px solid #000"></span><span style="position:absolute;left:0;right:0;top:10px;text-align:center;line-height:0">2</span></span><i>D</i><sub>KL</sub>(<i>D</i><sub><i>i</i></sub>||<i>M</i>) + <span style="display:inline-block;position:relative;width:9px;height:0;vertical-align:0.3em"><span style="position:absolute;left:0;right:0;top:-4px;text-align:center;line-height:0">1</span><span style="position:absolute;left:1px;right:1px;top:0;border-top:1px solid #000"></span><span style="position:absolute;left:0;right:0;top:10px;text-align:center;line-height:0">2</span></span><i>D</i><sub>KL</sub>(<i>D</i><sub><i>i</i>+1</sub>||<i>M</i>),</span></div>
<div class="L" style="top:656.21px;font-size:15.1px;right:109.00px;"><span>(4)</span></div>
<div class="L" style="top:688.21px;font-size:15.1px;left:3817.00px;word-spacing:3.852px;"><span>where <i>M</i> = <span style="font-size:10px;position:relative;top:-3px">½</span>(<i>D</i><sub><i>i</i></sub> + <i>D</i><sub><i>i</i>+1</sub>) and <i>D</i><sub>KL</sub>(·) denotes the KL-divergence Kullback and Leibler [1951]. The semantic</span></div>
<div class="L" style="top:705.01px;font-size:15.1px;left:3817.00px;"><span>distribution <i>D</i><sub><i>i</i></sub> is the normalized distribution of <i>i</i>-th sentence/chains embeddings <b>R</b><sub><i>i</i></sub> of <i>R</i>,</span></div>
<div class="L" style="top:742.71px;font-size:15.1px;left:4082.70px;"><span><i>D</i><sub><i>i</i></sub> = softmax(</span></div>
<div class="L" style="top:731.11px;font-size:15.1px;left:4208.50px;width:0;display:flex;justify-content:center;"><span><b>R</b><sub><i>i</i></sub> − <i>μ</i>(<b>R</b><sub><i>i</i></sub>)</span></div>
<div class="L" style="top:752.51px;font-size:15.1px;left:4208.50px;width:0;display:flex;justify-content:center;"><span><i>σ</i>(<b>R</b><sub><i>i</i></sub>)</span></div>
<div class="L" style="top:742.71px;font-size:15.1px;left:4249.00px;"><span>).</span></div>
<div class="L" style="top:742.71px;font-size:15.1px;right:109.00px;"><span>(5)</span></div>
<div class="L" style="top:781.71px;font-size:15.1px;left:3817.00px;"><span>with <i>μ</i>(·) and <i>σ</i>(·) denoting the mean and standard deviation of the embedding vector, respectively.</span></div>
<div class="L" style="top:807.11px;font-size:15.1px;left:3817.00px;word-spacing:1.744px;"><span>Let <i>A</i><sub><i>a</i></sub> be the correct answer and <i>A</i><sub><i>b</i></sub> be incorrect. KCR defines two types of logic-based rewards: Discrete Logic</span></div>
<div class="L" style="top:823.71px;font-size:15.1px;left:3817.00px;word-spacing:0.146px;"><span>Reward and Continuous Logic Reward. The Discrete Logic Reward assigns a binary signal based on which reference</span></div>
<div class="L" style="top:840.31px;font-size:15.1px;left:3817.00px;"><span>set is closer in logical structure to <i>RP</i>:</span></div>
<div class="L" style="top:880.41px;font-size:15.1px;left:3990.40px;"><span>Reward<span style="display:inline-block;position:relative;width:12px;height:0"><span style="position:absolute;left:0;top:-10.5px;font-size:10.5px;line-height:0"><i>D</i></span><span style="position:absolute;left:0;top:1px;font-size:10.5px;line-height:0"><i>L</i></span></span> =</span></div>
<div class="L" style="top:877.50px;font-size:32px;left:4070.00px;transform:scaleX(0.6);transform-origin:0 0"><span>{</span></div>
<div class="L" style="top:871.41px;font-size:15.1px;left:4078.00px;"><span>1,</span></div>
<div class="L" style="top:891.71px;font-size:15.1px;left:4078.00px;"><span>0,</span></div>
<div class="L" style="top:871.41px;font-size:15.1px;left:4105.00px;word-spacing:6.591px;"><span>|<i>l</i>(<i>RP</i>) − <i>l</i>(<i>RC</i><sub><i>a</i></sub>)| &lt; |<i>l</i>(<i>RP</i>) − <i>l</i>(<i>RC</i><sub><i>b</i></sub>)|</span></div>
<div class="L" style="top:891.71px;font-size:15.1px;left:4105.00px;word-spacing:6.630px;"><span>|<i>l</i>(<i>RP</i>) − <i>l</i>(<i>RC</i><sub><i>a</i></sub>)| ≥ |<i>l</i>(<i>RP</i>) − <i>l</i>(<i>RC</i><sub><i>b</i></sub>)|</span></div>
<div class="L" style="top:880.41px;font-size:15.1px;right:109.00px;"><span>(6)</span></div>
<div class="L" style="top:927.91px;font-size:15.1px;left:3817.00px;"><span>In contrast, the Continuous Logic Reward quantifies the relative closeness of <i>RP</i> to the two reference sets:</span></div>
<div class="L" style="top:970.81px;font-size:15.1px;left:4011.40px;word-spacing:4.941px;"><span>Reward<span style="display:inline-block;position:relative;width:12px;height:0"><span style="position:absolute;left:0;top:-10.5px;font-size:10.5px;line-height:0"><i>C</i></span><span style="position:absolute;left:0;top:1px;font-size:10.5px;line-height:0"><i>L</i></span></span> = |<i>l</i>(<i>RP</i>) − <i>l</i>(<i>RC</i><sub><i>b</i></sub>)| − |<i>l</i>(<i>RP</i>) − <i>l</i>(<i>RC</i><sub><i>a</i></sub>)|</span></div>
<div class="L" style="top:970.81px;font-size:15.1px;right:109.00px;"><span>(7)</span></div>
<div class="L" style="top:994.21px;font-size:15.1px;left:3817.00px;"><span>In practice, the discrete reward is preferred due to more stable convergence behavior during optimization.</span></div>
<div class="L" style="top:1031.11px;font-size:15.1px;left:3817.00px;"><span><b>3.2.2</b></span></div>
<div class="L" style="top:1031.11px;font-size:15.1px;left:3862.70px;"><span><b>Consistency Reward Model.</b></span></div>
<div class="L" style="top:1059.91px;font-size:15.1px;left:3817.00px;word-spacing:-0.128px;"><span>The consistency reward in KCR is motivated by the observation that long contexts are prone to causing hallucinations</span></div>
<div class="L" style="top:1076.41px;font-size:15.1px;left:3817.00px;word-spacing:1.021px;"><span>in LLMs Liu et al. [2025]. When presented with conflicting information, LLMs often generate entangled reasoning</span></div>
<div style="position:absolute;left:0px;top:0;width:927px;height:1200px"><div style="position:absolute;left:109px;top:120px;width:709px;height:3px;background:#000"></div><div style="position:absolute;left:109px;top:221.5px;width:709px;height:3px;background:#000"></div></div>
<div style="position:absolute;left:0px;top:0;width:927px;height:1200px"><div style="position:absolute;left:49px;top:854px;width:0;height:0;"><div style="position:absolute;left:0;top:0;transform:rotate(-90deg);transform-origin:0 0;white-space:nowrap;font-size:30.3px;line-height:30px;color:#808080;"><div style="position:absolute;left:0;top:-27px;">arXiv:2508.01273v2&nbsp;&nbsp;[cs.AI]&nbsp;&nbsp;5 Aug 2025</div></div></div></div>
<div style="position:absolute;left:927px;top:0;width:927px;height:1200px"><div style="position:absolute;left:109px;top:70.9px;width:709px;height:1px;background:#444"></div></div>
<div style="position:absolute;left:1854px;top:0;width:927px;height:1200px"><div style="position:absolute;left:109px;top:70.9px;width:709px;height:1px;background:#444"></div></div>
<div style="position:absolute;left:2781px;top:0;width:927px;height:1200px"><div style="position:absolute;left:109px;top:70.9px;width:709px;height:1px;background:#444"></div></div>
<div style="position:absolute;left:3708px;top:0;width:927px;height:1200px"><div style="position:absolute;left:109px;top:70.9px;width:709px;height:1px;background:#444"></div></div>
<svg style="position:absolute;left:927px;top:0" width="927" height="1200" viewBox="0 0 927 1200" font-family="Liberation Sans, sans-serif"><rect x="301.3" y="117.2" width="135.5" height="28.3" rx="5" fill="#6aa84f" stroke="#4f7f3a" stroke-width="0.7"/><text x="369.0" y="135.0" font-size="8.2" fill="#fff" stroke="#fff" stroke-width="0.3" text-anchor="middle" font-weight="normal" >Typical Knowledge Conflicts</text><text x="369.5" y="162.8" font-size="9" fill="#000" stroke="#000" stroke-width="0.3" text-anchor="middle" font-weight="normal" >What kind of celestial</text><text x="369.5" y="172.6" font-size="9" fill="#000" stroke="#000" stroke-width="0.3" text-anchor="middle" font-weight="normal" >body is Pluto?</text><rect x="288.5" y="183.8" width="41.5" height="13.8" rx="2.5" fill="#4472c4"/><text x="309.2" y="193.8" font-size="8" fill="#fff" stroke="#fff" stroke-width="0.3" text-anchor="middle" font-weight="bold" >Planet</text><rect x="390.0" y="187" width="64" height="13" rx="2.5" fill="#ed7d31"/><text x="422.0" y="196.8" font-size="7.6" fill="#fff" stroke="#fff" stroke-width="0.3" text-anchor="middle" font-weight="bold" >Dwarf Planets</text><path d="M298.0 223.0 q0 -7 10 -7 q10 0 10 7 v3 h-20z" fill="#7fa7e0" stroke="#222" stroke-width="0.9"/><circle cx="308.0" cy="212.0" r="9" fill="#fde3cf" stroke="#222" stroke-width="0.9"/><path d="M299.0 211.0 q0 -10 9 -10 q9 0 9 10 q-3 -5 -9 -5 q-6 0 -9 5z" fill="#222" stroke="#222" stroke-width="0.6"/><circle cx="304.8" cy="213.0" r="1" fill="#111"/><circle cx="311.2" cy="213.0" r="1" fill="#111"/><circle cx="302.2" cy="215.5" r="1.8" fill="#f4a3a3"/><circle cx="313.8" cy="215.5" r="1.8" fill="#f4a3a3"/><circle cx="308.0" cy="216.5" r="1.3" fill="#333"/><path d="M317.0 199 h10 q3 0 3 3 v3 q0 3 -3 3 h-6 l-3 2 v-2 h-1 q-3 0 -3 -3 v-3 q0 -3 3 -3z" fill="#fbefb8" stroke="#333" stroke-width="0.8"/><path d="M318.5 202.5 h7 M318.5 205 h7" stroke="#333" stroke-width="0.7"/><path d="M426.0 224.0 q0 -7 10 -7 q10 0 10 7 v3 h-20z" fill="#2b2b3a" stroke="#222" stroke-width="0.9"/><circle cx="436.0" cy="213.0" r="9" fill="#fde3cf" stroke="#222" stroke-width="0.9"/><path d="M427.0 212.0 q0 -10 9 -10 q9 0 9 10 q-3 -5 -9 -5 q-6 0 -9 5z" fill="#1f2a44" stroke="#222" stroke-width="0.6"/><circle cx="432.8" cy="214.0" r="1" fill="#111"/><circle cx="439.2" cy="214.0" r="1" fill="#111"/><circle cx="430.2" cy="216.5" r="1.8" fill="#f4a3a3"/><circle cx="441.8" cy="216.5" r="1.8" fill="#f4a3a3"/><circle cx="436.0" cy="217.5" r="1.3" fill="#333"/><rect x="420.0" y="201" width="13" height="11" rx="1.5" fill="#9fd3e6" stroke="#333" stroke-width="0.8"/><path d="M422.5 204 h8 M422.5 206.5 h8 M422.5 209 h8" stroke="#333" stroke-width="0.7"/><text x="369.5" y="209.7" font-size="8.3" fill="#000" stroke="#000" stroke-width="0.3" text-anchor="middle" font-weight="normal" >Conflicting</text><line x1="334.8" y1="213.8" x2="414.8" y2="213.8" stroke="#e31a1c" stroke-width="1.8"/><polygon points="419.6,213.8 413.6,217.1 413.6,210.5" fill="#e31a1c"/><polygon points="330.0,213.8 336.0,217.1 336.0,210.5" fill="#e31a1c"/><text x="369.5" y="233.8" font-size="8" fill="#000" stroke="#000" stroke-width="0.3" text-anchor="middle" font-weight="normal" >LLM</text><line x1="357.5" y1="238.0" x2="360.5" y2="243.0" stroke="#333" stroke-width="0.8"/><line x1="381.5" y1="238.0" x2="378.5" y2="243.0" stroke="#333" stroke-width="0.8"/><circle cx="357.0" cy="237.5" r="1.6" fill="#e06666" stroke="#333" stroke-width="0.6"/><circle cx="382.0" cy="237.5" r="1.6" fill="#e06666" stroke="#333" stroke-width="0.6"/><rect x="351.5" y="247.0" width="4" height="8" rx="1.5" fill="#6fa8dc" stroke="#333" stroke-width="0.7"/><rect x="383.5" y="247.0" width="4" height="8" rx="1.5" fill="#6fa8dc" stroke="#333" stroke-width="0.7"/><rect x="355.5" y="242.0" width="28" height="19" rx="6" fill="#6fa8dc" stroke="#333" stroke-width="0.9"/><rect x="361.0" y="246.5" width="17" height="10" rx="5" fill="#dbe9f6" stroke="#333" stroke-width="0.8"/><text x="369.5" y="254.5" font-size="7.5" fill="#222" stroke="#222" stroke-width="0.3" text-anchor="middle" font-weight="bold" >AI</text><path d="M356.5 270.0 q0 -10 13 -10 q13 0 13 10 v3 h-26z" fill="#fff" stroke="#333" stroke-width="0.9"/><rect x="367.0" y="265.0" width="5" height="5" fill="#6fa8dc" stroke="#333" stroke-width="0.6"/><path d="M367.0 267.0 l-5 -3 M372.0 267.0 l5 -3 M369.5 265.0 v-4" stroke="#333" stroke-width="0.6" fill="none"/><line x1="312.7" y1="229.0" x2="346.0" y2="251.4" stroke="#e31a1c" stroke-width="2.3"/><polygon points="350.6,254.5 342.6,253.8 346.9,247.4" fill="#e31a1c"/><line x1="433.0" y1="229.0" x2="393.4" y2="251.7" stroke="#e31a1c" stroke-width="2.3"/><polygon points="388.5,254.5 392.7,247.7 396.5,254.4" fill="#e31a1c"/><line x1="369.5" y1="273.0" x2="369.5" y2="289.2" stroke="#e31a1c" stroke-width="2"/><polygon points="369.5,294.0 366.2,288.0 372.8,288.0" fill="#e31a1c"/><rect x="336.8" y="296.5" width="64.2" height="13.8" rx="2.5" fill="#ed7d31"/><text x="369.0" y="306.6" font-size="7.6" fill="#fff" stroke="#fff" stroke-width="0.3" text-anchor="middle" font-weight="bold" >Dwarf Planets</text><line x1="461.5" y1="114" x2="461.5" y2="310" stroke="#3c6fc2" stroke-width="1.6" stroke-dasharray="4 2.5"/><rect x="481.3" y="117.2" width="135.5" height="28.3" rx="5" fill="#ff0000" stroke="#c00" stroke-width="0.7"/><text x="549.0" y="130.0" font-size="7.8" fill="#fff" stroke="#fff" stroke-width="0.3" text-anchor="middle" font-weight="normal" >Knowledge Conflicts With Long</text><text x="549.0" y="140.0" font-size="7.8" fill="#fff" stroke="#fff" stroke-width="0.3" text-anchor="middle" font-weight="normal" >Context</text><text x="549.5" y="159.3" font-size="9" fill="#000" stroke="#000" stroke-width="0.3" text-anchor="middle" font-weight="normal" >Which city contributes the</text><text x="549.5" y="169.2" font-size="9" fill="#000" stroke="#000" stroke-width="0.3" text-anchor="middle" font-weight="normal" >most to the US economy?</text><rect x="483.0" y="177.6" width="20" height="12.7" rx="2" fill="#4472c4"/><text x="493.0" y="187.0" font-size="7.5" fill="#fff" stroke="#fff" stroke-width="0.3" text-anchor="middle" font-weight="normal" >LA</text><rect x="594.4" y="177.6" width="18.6" height="12.7" rx="2" fill="#ed7d31"/><text x="603.7" y="187.0" font-size="7.5" fill="#fff" stroke="#fff" stroke-width="0.3" text-anchor="middle" font-weight="normal" >NY</text><path d="M476.4 191.4 h27.6 l4 4 v37.4 h-31.6 z" fill="#fff" stroke="#111" stroke-width="1.3"/><path d="M480.4 195.4 h22.6 l5 5 v36.4 h-31.6 z" fill="#fff" stroke="#111" stroke-width="1.3"/><line x1="485.4" y1="203.4" x2="506.0" y2="203.4" stroke="#111" stroke-width="1.1"/><line x1="485.4" y1="207.0" x2="506.0" y2="207.0" stroke="#111" stroke-width="1.1"/><line x1="485.4" y1="210.6" x2="506.0" y2="210.6" stroke="#111" stroke-width="1.1"/><line x1="485.4" y1="214.2" x2="506.0" y2="214.2" stroke="#111" stroke-width="1.1"/><line x1="485.4" y1="217.8" x2="506.0" y2="217.8" stroke="#111" stroke-width="1.1"/><line x1="485.4" y1="221.4" x2="506.0" y2="221.4" stroke="#111" stroke-width="1.1"/><line x1="485.4" y1="225.0" x2="506.0" y2="225.0" stroke="#111" stroke-width="1.1"/><line x1="485.4" y1="228.6" x2="506.0" y2="228.6" stroke="#111" stroke-width="1.1"/><path d="M589.0 196 h18 l5 5 v30 h-23z" fill="#fff" stroke="#111" stroke-width="1.3"/><path d="M596.0 201 h17 l5 5 v27 h-22z" fill="#fff" stroke="#111" stroke-width="1.3"/><text x="604.0" y="218.0" font-size="9" fill="#000" stroke="#000" stroke-width="0.3" text-anchor="middle" font-weight="bold" >T</text><path d="M608.0 219 h8 M600.0 223 h12 M600.0 227 h12" stroke="#111" stroke-width="1.1"/><text x="549.5" y="205.0" font-size="8.3" fill="#000" stroke="#000" stroke-width="0.3" text-anchor="middle" font-weight="normal" >Conflicting</text><line x1="517.8" y1="212.8" x2="581.0" y2="212.8" stroke="#e31a1c" stroke-width="1.8"/><polygon points="585.8,212.8 579.8,216.1 579.8,209.5" fill="#e31a1c"/><polygon points="513.0,212.8 519.0,216.1 519.0,209.5" fill="#e31a1c"/><text x="549.5" y="233.8" font-size="8" fill="#000" stroke="#000" stroke-width="0.3" text-anchor="middle" font-weight="normal" >LLM</text><line x1="540.0" y1="238.0" x2="543.0" y2="243.0" stroke="#333" stroke-width="0.8"/><line x1="564.0" y1="238.0" x2="561.0" y2="243.0" stroke="#333" stroke-width="0.8"/><circle cx="539.5" cy="237.5" r="1.6" fill="#e06666" stroke="#333" stroke-width="0.6"/><circle cx="564.5" cy="237.5" r="1.6" fill="#e06666" stroke="#333" stroke-width="0.6"/><rect x="534.0" y="247.0" width="4" height="8" rx="1.5" fill="#6fa8dc" stroke="#333" stroke-width="0.7"/><rect x="566.0" y="247.0" width="4" height="8" rx="1.5" fill="#6fa8dc" stroke="#333" stroke-width="0.7"/><rect x="538.0" y="242.0" width="28" height="19" rx="6" fill="#6fa8dc" stroke="#333" stroke-width="0.9"/><rect x="543.5" y="246.5" width="17" height="10" rx="5" fill="#dbe9f6" stroke="#333" stroke-width="0.8"/><text x="552.0" y="254.5" font-size="7.5" fill="#222" stroke="#222" stroke-width="0.3" text-anchor="middle" font-weight="bold" >AI</text><path d="M539.0 270.0 q0 -10 13 -10 q13 0 13 10 v3 h-26z" fill="#fff" stroke="#333" stroke-width="0.9"/><rect x="549.5" y="265.0" width="5" height="5" fill="#6fa8dc" stroke="#333" stroke-width="0.6"/><path d="M549.5 267.0 l-5 -3 M554.5 267.0 l5 -3 M552.0 265.0 v-4" stroke="#333" stroke-width="0.6" fill="none"/><line x1="492.7" y1="234.5" x2="527.3" y2="252.4" stroke="#e31a1c" stroke-width="2.3"/><polygon points="532.3,255.0 524.3,255.2 527.9,248.4" fill="#e31a1c"/><line x1="597.8" y1="234.5" x2="576.4" y2="251.5" stroke="#e31a1c" stroke-width="2.3"/><polygon points="572.0,255.0 575.1,247.6 579.9,253.7" fill="#e31a1c"/><line x1="552.0" y1="273.0" x2="552.0" y2="286.0" stroke="#e31a1c" stroke-width="2"/><polygon points="552.0,290.0 549.2,285.0 554.8,285.0" fill="#e31a1c"/><path d="M545.4 289.7 h23 v12 h-14 l-3 3 v-3 h-6z" fill="#ffd966" stroke="#333" stroke-width="0.8"/><text x="557.0" y="299.0" font-size="7.5" fill="#000" stroke="#000" stroke-width="0.3" text-anchor="middle" font-weight="bold" >???</text><rect x="536.0" y="301" width="23" height="17" rx="2" fill="#fff" stroke="#111" stroke-width="1"/><circle cx="547.5" cy="309.5" r="5.5" fill="none" stroke="#111" stroke-width="0.9"/><circle cx="547.5" cy="309.5" r="3" fill="none" stroke="#111" stroke-width="0.8"/></svg>
<svg style="position:absolute;left:1854px;top:0" width="927" height="1200" viewBox="0 0 927 1200" font-family="Liberation Sans, sans-serif"><rect x="113.5" y="112.0" width="272.9" height="305.0" rx="12" fill="#e2eed8" stroke="#b8c8b0" stroke-width="1"/><text x="252.8" y="127.8" font-size="11.33" fill="#111" stroke="#111" stroke-width="0.3" text-anchor="middle" font-weight="normal" >Phase 1: Conflicting Reasoning Paths Generation</text><polyline points="201.7,146.0 134.5,146.0 134.5,296.0 151.0,296.0" fill="none" stroke="#111" stroke-width="1.1" stroke-dasharray="1.5 1.5"/><polygon points="151.0,296.0 147.0,298.0 147.0,294.0" fill="#111"/><polyline points="304.0,146.0 371.0,146.0 371.0,296.0 354.0,296.0" fill="none" stroke="#111" stroke-width="1.1" stroke-dasharray="1.5 1.5"/><polygon points="354.0,296.0 358.0,294.0 358.0,298.0" fill="#111"/><rect x="201.7" y="137.4" width="102.3" height="16.8" rx="2" fill="#6aa84f" stroke="#4a7a35" stroke-width="0.8"/><text x="252.8" y="149.7" font-size="11.0" fill="#fff" stroke="#fff" stroke-width="0.3" text-anchor="middle" font-weight="normal" >query/question</text><rect x="144.6" y="156.6" width="77.8" height="25.9" rx="2" fill="#4472c4" stroke="#2f5597" stroke-width="0.8"/><text x="183.5" y="167.5" font-size="10.45" fill="#fff" stroke="#fff" stroke-width="0.3" text-anchor="middle" font-weight="normal" >answer</text><text x="183.5" y="179.0" font-size="10.45" fill="#fff" stroke="#fff" stroke-width="0.3" text-anchor="middle" font-weight="normal" >candidate 1</text><rect x="281.4" y="156.6" width="77.6" height="25.9" rx="2" fill="#ed7d31" stroke="#c55a11" stroke-width="0.8"/><text x="320.2" y="167.5" font-size="10.45" fill="#fff" stroke="#fff" stroke-width="0.3" text-anchor="middle" font-weight="normal" >answer</text><text x="320.2" y="179.0" font-size="10.45" fill="#fff" stroke="#fff" stroke-width="0.3" text-anchor="middle" font-weight="normal" >candidate2</text><polyline points="236.0,169.6 222.5,169.6" fill="none" stroke="#e8201a" stroke-width="3.6"/><polygon points="222.5,169.6 231.5,165.1 231.5,174.1" fill="#e8201a"/><polyline points="231.0,169.6 281.4,169.6" fill="none" stroke="#e8201a" stroke-width="3.6"/><polygon points="281.4,169.6 272.4,174.1 272.4,165.1" fill="#e8201a"/><text x="251.5" y="186.4" font-size="10.45" fill="#111" stroke="#111" stroke-width="0.3" text-anchor="middle" font-weight="normal" >Conflicting</text><path d="M156.6 193.6 h19.0 l4 4 v27.4 h-23.0 z" fill="#fff" stroke="#111" stroke-width="1"/><path d="M160.6 197.6 h18.0 l5 5 v24.4 h-23.0 z" fill="#fff" stroke="#111" stroke-width="1.1"/><line x1="164.6" y1="206.6" x2="179.6" y2="206.6" stroke="#111" stroke-width="0.9"/><line x1="164.6" y1="210.2" x2="179.6" y2="210.2" stroke="#111" stroke-width="0.9"/><line x1="164.6" y1="213.8" x2="179.6" y2="213.8" stroke="#111" stroke-width="0.9"/><line x1="164.6" y1="217.4" x2="179.6" y2="217.4" stroke="#111" stroke-width="0.9"/><line x1="164.6" y1="221.0" x2="179.6" y2="221.0" stroke="#111" stroke-width="0.9"/><circle cx="196.0" cy="199.8" r="9.5" fill="#e0607e" stroke="#333" stroke-width="0.9"/><circle cx="196.0" cy="199.8" r="4.275" fill="#fff"/><path d="M193.5 197.3 l5 5 M198.5 197.3 l-5 5" stroke="#e0607e" stroke-width="1.6"/><path d="M325.5 193.6 h18.0 l4 4 v27.4 h-22.0 z" fill="#fff" stroke="#111" stroke-width="1"/><path d="M329.5 197.6 h17.0 l5 5 v24.4 h-22.0 z" fill="#fff" stroke="#111" stroke-width="1.1"/><line x1="333.5" y1="206.6" x2="347.5" y2="206.6" stroke="#111" stroke-width="0.9"/><line x1="333.5" y1="210.2" x2="347.5" y2="210.2" stroke="#111" stroke-width="0.9"/><line x1="333.5" y1="213.8" x2="347.5" y2="213.8" stroke="#111" stroke-width="0.9"/><line x1="333.5" y1="217.4" x2="347.5" y2="217.4" stroke="#111" stroke-width="0.9"/><line x1="333.5" y1="221.0" x2="347.5" y2="221.0" stroke="#111" stroke-width="0.9"/><circle cx="308.7" cy="199.5" r="10" fill="#8dc63f" stroke="#333" stroke-width="0.9"/><path d="M304.2 199.5 l3 3 l6 -6" stroke="#fff" stroke-width="2.2" fill="none"/><polyline points="172.0,193.0 181.0,182.5" fill="none" stroke="#111" stroke-width="1.1" stroke-dasharray="2 1.5"/><polygon points="181.0,182.5 179.9,186.8 176.9,184.2" fill="#111"/><polyline points="339.0,193.0 330.0,182.5" fill="none" stroke="#111" stroke-width="1.1" stroke-dasharray="2 1.5"/><polygon points="330.0,182.5 334.1,184.2 331.1,186.8" fill="#111"/><text x="252.6" y="232.0" font-size="11.0" fill="#111" stroke="#111" stroke-width="0.3" text-anchor="middle" font-weight="normal" >Supporting context</text><polyline points="170.0,227.0 170.0,248.8" fill="none" stroke="#111" stroke-width="1.1"/><polygon points="170.0,248.8 168.0,244.8 172.0,244.8" fill="#111"/><polyline points="338.0,227.0 338.0,248.8" fill="none" stroke="#111" stroke-width="1.1"/><polygon points="338.0,248.8 336.0,244.8 340.0,244.8" fill="#111"/><polyline points="178.0,227.0 178.0,237.0 247.0,237.0 247.0,321.7" fill="none" stroke="#111" stroke-width="1.1"/><polygon points="247.0,321.7 245.0,317.7 249.0,317.7" fill="#111"/><polyline points="332.0,227.0 332.0,237.0 253.0,237.0 253.0,321.7" fill="none" stroke="#111" stroke-width="1.1"/><polygon points="253.0,321.7 251.0,317.7 255.0,317.7" fill="#111"/><rect x="145.6" y="248.8" width="98.4" height="22.5" rx="3" fill="#f2e6c0" stroke="#8a7d55" stroke-width="0.9"/><line x1="152.0" y1="260.0" x2="166.0" y2="260.0" stroke="#2a7fc0" stroke-width="1.6"/><line x1="152.9" y1="256.5" x2="165.1" y2="263.5" stroke="#2a7fc0" stroke-width="1.6"/><line x1="155.5" y1="253.9" x2="162.5" y2="266.1" stroke="#2a7fc0" stroke-width="1.6"/><line x1="159.0" y1="253.0" x2="159.0" y2="267.0" stroke="#2a7fc0" stroke-width="1.6"/><line x1="162.5" y1="253.9" x2="155.5" y2="266.1" stroke="#2a7fc0" stroke-width="1.6"/><line x1="165.1" y1="256.5" x2="152.9" y2="263.5" stroke="#2a7fc0" stroke-width="1.6"/><circle cx="159.0" cy="260.0" r="2.4" fill="#fff" stroke="#2a7fc0" stroke-width="1"/><text x="205.0" y="264.5" font-size="11.0" fill="#111" stroke="#111" stroke-width="0.3" text-anchor="middle" font-weight="normal" >KG extractor</text><rect x="265.5" y="248.8" width="98.5" height="22.5" rx="3" fill="#f2e6c0" stroke="#8a7d55" stroke-width="0.9"/><line x1="344.0" y1="260.0" x2="358.0" y2="260.0" stroke="#2a7fc0" stroke-width="1.6"/><line x1="344.9" y1="256.5" x2="357.1" y2="263.5" stroke="#2a7fc0" stroke-width="1.6"/><line x1="347.5" y1="253.9" x2="354.5" y2="266.1" stroke="#2a7fc0" stroke-width="1.6"/><line x1="351.0" y1="253.0" x2="351.0" y2="267.0" stroke="#2a7fc0" stroke-width="1.6"/><line x1="354.5" y1="253.9" x2="347.5" y2="266.1" stroke="#2a7fc0" stroke-width="1.6"/><line x1="357.1" y1="256.5" x2="344.9" y2="263.5" stroke="#2a7fc0" stroke-width="1.6"/><circle cx="351.0" cy="260.0" r="2.4" fill="#fff" stroke="#2a7fc0" stroke-width="1"/><text x="303.0" y="264.5" font-size="11.0" fill="#111" stroke="#111" stroke-width="0.3" text-anchor="middle" font-weight="normal" >KG extractor</text><polyline points="170.0,271.3 170.0,284.0" fill="none" stroke="#111" stroke-width="1.1"/><polygon points="170.0,284.0 168.2,280.5 171.8,280.5" fill="#111"/><polyline points="338.0,271.3 338.0,284.0" fill="none" stroke="#111" stroke-width="1.1"/><polygon points="338.0,284.0 336.2,280.5 339.8,280.5" fill="#111"/><line x1="169.0" y1="296.0" x2="169.0" y2="286.0" stroke="#111" stroke-width="0.9"/><line x1="169.0" y1="296.0" x2="177.7" y2="291.0" stroke="#111" stroke-width="0.9"/><line x1="169.0" y1="296.0" x2="177.7" y2="301.0" stroke="#111" stroke-width="0.9"/><line x1="169.0" y1="296.0" x2="169.0" y2="306.0" stroke="#111" stroke-width="0.9"/><line x1="169.0" y1="296.0" x2="160.3" y2="301.0" stroke="#111" stroke-width="0.9"/><line x1="169.0" y1="296.0" x2="160.3" y2="291.0" stroke="#111" stroke-width="0.9"/><circle cx="169.0" cy="286.0" r="2.4" fill="#fff" stroke="#d9963a" stroke-width="1"/><circle cx="177.7" cy="291.0" r="2.4" fill="#fff" stroke="#d9963a" stroke-width="1"/><circle cx="177.7" cy="301.0" r="2.4" fill="#fff" stroke="#d9963a" stroke-width="1"/><circle cx="169.0" cy="306.0" r="2.4" fill="#fff" stroke="#d9963a" stroke-width="1"/><circle cx="160.3" cy="301.0" r="2.4" fill="#fff" stroke="#d9963a" stroke-width="1"/><circle cx="160.3" cy="291.0" r="2.4" fill="#fff" stroke="#d9963a" stroke-width="1"/><circle cx="169.0" cy="296.0" r="5" fill="#fff" stroke="#111" stroke-width="1"/><text x="211.5" y="299.0" font-size="11.0" fill="#111" stroke="#111" stroke-width="0.3" text-anchor="middle" font-weight="normal" >or text</text><line x1="339.0" y1="296.0" x2="339.0" y2="286.0" stroke="#111" stroke-width="0.9"/><line x1="339.0" y1="286.0" x2="347.7" y2="291.0" stroke="#111" stroke-width="0.9"/><line x1="339.0" y1="296.0" x2="347.7" y2="291.0" stroke="#111" stroke-width="0.9"/><line x1="347.7" y1="291.0" x2="347.7" y2="301.0" stroke="#111" stroke-width="0.9"/><line x1="339.0" y1="296.0" x2="347.7" y2="301.0" stroke="#111" stroke-width="0.9"/><line x1="347.7" y1="301.0" x2="339.0" y2="306.0" stroke="#111" stroke-width="0.9"/><line x1="339.0" y1="296.0" x2="339.0" y2="306.0" stroke="#111" stroke-width="0.9"/><line x1="339.0" y1="306.0" x2="330.3" y2="301.0" stroke="#111" stroke-width="0.9"/><line x1="339.0" y1="296.0" x2="330.3" y2="301.0" stroke="#111" stroke-width="0.9"/><line x1="330.3" y1="301.0" x2="330.3" y2="291.0" stroke="#111" stroke-width="0.9"/><line x1="339.0" y1="296.0" x2="330.3" y2="291.0" stroke="#111" stroke-width="0.9"/><line x1="330.3" y1="291.0" x2="339.0" y2="286.0" stroke="#111" stroke-width="0.9"/><circle cx="339.0" cy="286.0" r="2.4" fill="#fff" stroke="#111" stroke-width="1"/><circle cx="347.7" cy="291.0" r="2.4" fill="#fff" stroke="#111" stroke-width="1"/><circle cx="347.7" cy="301.0" r="2.4" fill="#fff" stroke="#111" stroke-width="1"/><circle cx="339.0" cy="306.0" r="2.4" fill="#fff" stroke="#111" stroke-width="1"/><circle cx="330.3" cy="301.0" r="2.4" fill="#fff" stroke="#111" stroke-width="1"/><circle cx="330.3" cy="291.0" r="2.4" fill="#fff" stroke="#111" stroke-width="1"/><circle cx="339.0" cy="296.0" r="2.5" fill="#fff" stroke="#111" stroke-width="1"/><text x="299.0" y="299.0" font-size="11.0" fill="#111" stroke="#111" stroke-width="0.3" text-anchor="middle" font-weight="normal" >text or</text><polyline points="170.0,308.0 170.0,321.7" fill="none" stroke="#111" stroke-width="1.1"/><polygon points="170.0,321.7 168.2,318.2 171.8,318.2" fill="#111"/><polyline points="338.0,308.0 338.0,321.7" fill="none" stroke="#111" stroke-width="1.1"/><polygon points="338.0,321.7 336.2,318.2 339.8,318.2" fill="#111"/><rect x="153.7" y="321.7" width="186.3" height="24.0" rx="3" fill="#f2e6c0" stroke="#8a7d55" stroke-width="0.9"/><line x1="164.5" y1="333.5" x2="179.5" y2="333.5" stroke="#2a7fc0" stroke-width="1.6"/><line x1="165.5" y1="329.8" x2="178.5" y2="337.2" stroke="#2a7fc0" stroke-width="1.6"/><line x1="168.2" y1="327.0" x2="175.8" y2="340.0" stroke="#2a7fc0" stroke-width="1.6"/><line x1="172.0" y1="326.0" x2="172.0" y2="341.0" stroke="#2a7fc0" stroke-width="1.6"/><line x1="175.8" y1="327.0" x2="168.2" y2="340.0" stroke="#2a7fc0" stroke-width="1.6"/><line x1="178.5" y1="329.8" x2="165.5" y2="337.2" stroke="#2a7fc0" stroke-width="1.6"/><circle cx="172.0" cy="333.5" r="2.6" fill="#fff" stroke="#2a7fc0" stroke-width="1"/><text x="248.8" y="338.5" font-size="11.33" fill="#111" stroke="#111" stroke-width="0.3" text-anchor="middle" font-weight="normal" >Path extractor</text><path d="M324.0 326 l8 14 h-16z M324.0 341 l8 -14 h-16z" fill="none" stroke="#4a4ac0" stroke-width="1.8"/><polyline points="169.0,345.7 169.0,357.0" fill="none" stroke="#111" stroke-width="1.1"/><polygon points="169.0,357.0 167.2,353.5 170.8,353.5" fill="#111"/><polyline points="338.0,345.7 338.0,357.0" fill="none" stroke="#111" stroke-width="1.1"/><polygon points="338.0,357.0 336.2,353.5 339.8,353.5" fill="#111"/><rect x="124.0" y="353.4" width="253.0" height="56.1" rx="6" fill="none" stroke="#555" stroke-width="0.9" stroke-dasharray="2 1.5"/><rect x="126.4" y="358.0" width="110.4" height="49.0" rx="6" fill="#c8e6e2" stroke="#7a7a50" stroke-width="0.9"/><text x="181.6" y="372.0" font-size="11.33" fill="#111" stroke="#111" stroke-width="0.3" text-anchor="middle" font-weight="normal" >Reasoning paths 1</text><circle cx="134.5" cy="379.0" r="4.7" fill="#4472c4" stroke="#1f3a70" stroke-width="0.8"/><line x1="138.5" y1="379.0" x2="151.0" y2="379.0" stroke="#4472c4" stroke-width="1.3"/><polygon points="151.5,379.0 148.0,377.0 148.0,381.0" fill="#4472c4"/><circle cx="156.0" cy="379.0" r="4.7" fill="#4472c4" stroke="#1f3a70" stroke-width="0.8"/><line x1="160.0" y1="379.0" x2="173.0" y2="379.0" stroke="#4472c4" stroke-width="1.3"/><polygon points="173.5,379.0 170.0,377.0 170.0,381.0" fill="#4472c4"/><circle cx="178.0" cy="379.0" r="4.7" fill="#4472c4" stroke="#1f3a70" stroke-width="0.8"/><line x1="182.0" y1="379.0" x2="194.3" y2="379.0" stroke="#4472c4" stroke-width="1.3"/><polygon points="194.8,379.0 191.3,377.0 191.3,381.0" fill="#4472c4"/><circle cx="199.3" cy="379.0" r="4.7" fill="#4472c4" stroke="#1f3a70" stroke-width="0.8"/><circle cx="134.5" cy="390.0" r="4.7" fill="#4472c4" stroke="#1f3a70" stroke-width="0.8"/><line x1="138.5" y1="390.0" x2="151.0" y2="390.0" stroke="#4472c4" stroke-width="1.3"/><polygon points="151.5,390.0 148.0,388.0 148.0,392.0" fill="#4472c4"/><circle cx="156.0" cy="390.0" r="4.7" fill="#4472c4" stroke="#1f3a70" stroke-width="0.8"/><line x1="160.0" y1="390.0" x2="173.0" y2="390.0" stroke="#4472c4" stroke-width="1.3"/><polygon points="173.5,390.0 170.0,388.0 170.0,392.0" fill="#4472c4"/><circle cx="178.0" cy="390.0" r="4.7" fill="#4472c4" stroke="#1f3a70" stroke-width="0.8"/><circle cx="134.5" cy="400.5" r="4.7" fill="#4472c4" stroke="#1f3a70" stroke-width="0.8"/><line x1="138.5" y1="400.5" x2="151.0" y2="400.5" stroke="#4472c4" stroke-width="1.3"/><polygon points="151.5,400.5 148.0,398.5 148.0,402.5" fill="#4472c4"/><circle cx="156.0" cy="400.5" r="4.7" fill="#4472c4" stroke="#1f3a70" stroke-width="0.8"/><line x1="160.0" y1="400.5" x2="173.0" y2="400.5" stroke="#4472c4" stroke-width="1.3"/><polygon points="173.5,400.5 170.0,398.5 170.0,402.5" fill="#4472c4"/><circle cx="178.0" cy="400.5" r="4.7" fill="#4472c4" stroke="#1f3a70" stroke-width="0.8"/><line x1="182.0" y1="400.5" x2="194.3" y2="400.5" stroke="#4472c4" stroke-width="1.3"/><polygon points="194.8,400.5 191.3,398.5 191.3,402.5" fill="#4472c4"/><circle cx="199.3" cy="400.5" r="4.7" fill="#4472c4" stroke="#1f3a70" stroke-width="0.8"/><line x1="203.3" y1="400.5" x2="215.5" y2="400.5" stroke="#4472c4" stroke-width="1.3"/><polygon points="216.0,400.5 212.5,398.5 212.5,402.5" fill="#4472c4"/><circle cx="220.5" cy="400.5" r="4.7" fill="#4472c4" stroke="#1f3a70" stroke-width="0.8"/><rect x="260.7" y="358.0" width="110.3" height="49.0" rx="6" fill="#f3c9a0" stroke="#e8d8c0" stroke-width="0.9"/><text x="316.0" y="372.0" font-size="11.33" fill="#111" stroke="#111" stroke-width="0.3" text-anchor="middle" font-weight="normal" >Reasoning paths 2</text><circle cx="269.4" cy="379.0" r="4.7" fill="#ed7d31" stroke="#7a3a10" stroke-width="0.8"/><line x1="273.4" y1="379.0" x2="286.0" y2="379.0" stroke="#ed7d31" stroke-width="1.3"/><polygon points="286.5,379.0 283.0,377.0 283.0,381.0" fill="#ed7d31"/><circle cx="291.0" cy="379.0" r="4.7" fill="#ed7d31" stroke="#7a3a10" stroke-width="0.8"/><line x1="295.0" y1="379.0" x2="307.3" y2="379.0" stroke="#ed7d31" stroke-width="1.3"/><polygon points="307.8,379.0 304.3,377.0 304.3,381.0" fill="#ed7d31"/><circle cx="312.3" cy="379.0" r="4.7" fill="#ed7d31" stroke="#7a3a10" stroke-width="0.8"/><circle cx="269.4" cy="390.0" r="4.7" fill="#ed7d31" stroke="#7a3a10" stroke-width="0.8"/><line x1="273.4" y1="390.0" x2="286.0" y2="390.0" stroke="#ed7d31" stroke-width="1.3"/><polygon points="286.5,390.0 283.0,388.0 283.0,392.0" fill="#ed7d31"/><circle cx="291.0" cy="390.0" r="4.7" fill="#ed7d31" stroke="#7a3a10" stroke-width="0.8"/><line x1="295.0" y1="390.0" x2="307.3" y2="390.0" stroke="#ed7d31" stroke-width="1.3"/><polygon points="307.8,390.0 304.3,388.0 304.3,392.0" fill="#ed7d31"/><circle cx="312.3" cy="390.0" r="4.7" fill="#ed7d31" stroke="#7a3a10" stroke-width="0.8"/><line x1="316.3" y1="390.0" x2="328.9" y2="390.0" stroke="#ed7d31" stroke-width="1.3"/><polygon points="329.4,390.0 325.9,388.0 325.9,392.0" fill="#ed7d31"/><circle cx="333.9" cy="390.0" r="4.7" fill="#ed7d31" stroke="#7a3a10" stroke-width="0.8"/><circle cx="269.4" cy="400.5" r="4.7" fill="#ed7d31" stroke="#7a3a10" stroke-width="0.8"/><line x1="273.4" y1="400.5" x2="286.0" y2="400.5" stroke="#ed7d31" stroke-width="1.3"/><polygon points="286.5,400.5 283.0,398.5 283.0,402.5" fill="#ed7d31"/><circle cx="291.0" cy="400.5" r="4.7" fill="#ed7d31" stroke="#7a3a10" stroke-width="0.8"/><line x1="295.0" y1="400.5" x2="307.3" y2="400.5" stroke="#ed7d31" stroke-width="1.3"/><polygon points="307.8,400.5 304.3,398.5 304.3,402.5" fill="#ed7d31"/><circle cx="312.3" cy="400.5" r="4.7" fill="#ed7d31" stroke="#7a3a10" stroke-width="0.8"/><rect x="404.3" y="112.0" width="406.3" height="305.0" rx="12" fill="#fcf6c6" stroke="#d8d0a0" stroke-width="1"/><polyline points="377.0,388.0 553.5,388.0" fill="none" stroke="#111" stroke-width="1.3"/><polygon points="553.5,388.0 548.5,390.5 548.5,385.5" fill="#111"/><text x="594.5" y="127.8" font-size="11.33" fill="#111" stroke="#111" stroke-width="0.3" text-anchor="middle" font-weight="normal" >Phase 2: Conflicts Reasoning Paradigm Learning</text><rect x="481.6" y="139.3" width="225.9" height="59.1" rx="6" fill="none" stroke="#555" stroke-width="0.9" stroke-dasharray="2 1.5"/><rect x="546.4" y="144.0" width="102.2" height="17.0" rx="2" fill="#6aa84f" stroke="#4a7a35" stroke-width="0.8"/><text x="597.5" y="156.5" font-size="11.0" fill="#fff" stroke="#fff" stroke-width="0.3" text-anchor="middle" font-weight="normal" >query/question</text><rect x="521.0" y="164.8" width="73.3" height="26.4" rx="2" fill="#4472c4" stroke="#2f5597" stroke-width="0.8"/><text x="557.6" y="176.0" font-size="10.45" fill="#fff" stroke="#fff" stroke-width="0.3" text-anchor="middle" font-weight="normal" >answer</text><text x="557.6" y="187.5" font-size="10.45" fill="#fff" stroke="#fff" stroke-width="0.3" text-anchor="middle" font-weight="normal" >candidate 1</text><rect x="597.7" y="163.8" width="74.8" height="25.9" rx="2" fill="#ed7d31" stroke="#c55a11" stroke-width="0.8"/><text x="635.0" y="175.0" font-size="10.45" fill="#fff" stroke="#fff" stroke-width="0.3" text-anchor="middle" font-weight="normal" >answer</text><text x="635.0" y="186.5" font-size="10.45" fill="#fff" stroke="#fff" stroke-width="0.3" text-anchor="middle" font-weight="normal" >candidate 2</text><path d="M490.0 160.0 h18.6 l4 4 v27.6 h-22.6 z" fill="#fff" stroke="#111" stroke-width="1"/><path d="M494.0 164.0 h17.6 l5 5 v24.6 h-22.6 z" fill="#fff" stroke="#111" stroke-width="1.1"/><line x1="498.0" y1="173.0" x2="512.6" y2="173.0" stroke="#111" stroke-width="0.9"/><line x1="498.0" y1="176.6" x2="512.6" y2="176.6" stroke="#111" stroke-width="0.9"/><line x1="498.0" y1="180.2" x2="512.6" y2="180.2" stroke="#111" stroke-width="0.9"/><line x1="498.0" y1="183.8" x2="512.6" y2="183.8" stroke="#111" stroke-width="0.9"/><line x1="498.0" y1="187.4" x2="512.6" y2="187.4" stroke="#111" stroke-width="0.9"/><path d="M674.0 160.0 h18.0 l4 4 v27.5 h-22.0 z" fill="#fff" stroke="#111" stroke-width="1"/><path d="M678.0 164.0 h17.0 l5 5 v24.5 h-22.0 z" fill="#fff" stroke="#111" stroke-width="1.1"/><line x1="682.0" y1="173.0" x2="696.0" y2="173.0" stroke="#111" stroke-width="0.9"/><line x1="682.0" y1="176.6" x2="696.0" y2="176.6" stroke="#111" stroke-width="0.9"/><line x1="682.0" y1="180.2" x2="696.0" y2="180.2" stroke="#111" stroke-width="0.9"/><line x1="682.0" y1="183.8" x2="696.0" y2="183.8" stroke="#111" stroke-width="0.9"/><line x1="682.0" y1="187.4" x2="696.0" y2="187.4" stroke="#111" stroke-width="0.9"/><polyline points="594.3,198.4 594.3,215.0 506.0,215.0" fill="none" stroke="#111" stroke-width="1.3"/><polygon points="506.0,215.0 511.0,212.5 511.0,217.5" fill="#111"/><text x="414.4" y="220.0" font-size="10.78" fill="#111" stroke="#111" stroke-width="0.3" text-anchor="start" font-weight="normal" >Backbone LLM</text><path d="M497.0 222 q-6 -4 -3 -10 q2 3 3 1 q1 -5 4 -7 q0 4 3 7 q3 5 -2 9z" fill="#f39c33" stroke="#c0501a" stroke-width="0.7"/><g transform="translate(452.0 222) scale(1.12) translate(-452.0 -222)"><line x1="440.0" y1="224.0" x2="443.0" y2="229.0" stroke="#333" stroke-width="0.8"/><line x1="464.0" y1="224.0" x2="461.0" y2="229.0" stroke="#333" stroke-width="0.8"/><circle cx="439.5" cy="223.5" r="1.6" fill="#e06666" stroke="#333" stroke-width="0.6"/><circle cx="464.5" cy="223.5" r="1.6" fill="#e06666" stroke="#333" stroke-width="0.6"/><rect x="434.0" y="233.0" width="4" height="8" rx="1.5" fill="#6fa8dc" stroke="#333" stroke-width="0.7"/><rect x="466.0" y="233.0" width="4" height="8" rx="1.5" fill="#6fa8dc" stroke="#333" stroke-width="0.7"/><rect x="438.0" y="228.0" width="28" height="19" rx="6" fill="#6fa8dc" stroke="#333" stroke-width="0.9"/><rect x="443.5" y="232.5" width="17" height="10" rx="5" fill="#dbe9f6" stroke="#333" stroke-width="0.8"/><text x="452.0" y="240.5" font-size="7.5" fill="#222" stroke="#222" stroke-width="0.3" text-anchor="middle" font-weight="bold" >AI</text><path d="M439.0 256.0 q0 -10 13 -10 q13 0 13 10 v3 h-26z" fill="#fff" stroke="#333" stroke-width="0.9"/><rect x="449.5" y="251.0" width="5" height="5" fill="#6fa8dc" stroke="#333" stroke-width="0.6"/><path d="M449.5 253.0 l-5 -3 M454.5 253.0 l5 -3 M452.0 251.0 v-4" stroke="#333" stroke-width="0.6" fill="none"/></g><polyline points="472.0,242.5 615.0,242.5" fill="none" stroke="#111" stroke-width="1.3"/><polygon points="615.0,242.5 610.0,245.0 610.0,240.0" fill="#111"/><rect x="616.0" y="208.0" width="177.9" height="61.0" rx="6" fill="none" stroke="#555" stroke-width="0.9" stroke-dasharray="2 1.5"/><text x="705.0" y="220.0" font-size="10.78" fill="#111" stroke="#111" stroke-width="0.3" text-anchor="middle" font-weight="normal" >answer with reasoning process</text><path d="M626.0 242 l18 -6 l18 6 v16 l-18 6 l-18 -6z M626.0 242 l18 6 l18 -6 M644.0 248 v16" fill="#fff" stroke="#111" stroke-width="1.4"/><circle cx="644.0" cy="231" r="5" fill="#bde4f4" stroke="#111" stroke-width="1"/><path d="M689.0 244 h36 M707.0 226 v36" stroke="#111" stroke-width="8.5" fill="none"/><path d="M690.0 244 h34 M707.0 227 v34" stroke="#2a9bd8" stroke-width="6" fill="none"/><path d="M753.5 225 h24 l9 9 v30 h-33z" fill="#dbe7f7" stroke="#111" stroke-width="1.3"/><line x1="758.0" y1="238.0" x2="782.0" y2="238.0" stroke="#111" stroke-width="1"/><line x1="758.0" y1="242.5" x2="782.0" y2="242.5" stroke="#111" stroke-width="1"/><line x1="758.0" y1="247.0" x2="782.0" y2="247.0" stroke="#111" stroke-width="1"/><line x1="758.0" y1="251.5" x2="782.0" y2="251.5" stroke="#111" stroke-width="1"/><line x1="758.0" y1="256.0" x2="782.0" y2="256.0" stroke="#111" stroke-width="1"/><text x="485.4" y="269.0" font-size="10.78" fill="#111" stroke="#111" stroke-width="0.3" text-anchor="start" font-weight="normal" >alleviate hallucinations</text><rect x="483.0" y="272.7" width="116.0" height="18.3" rx="2" fill="#f0302a" stroke="#a01010" stroke-width="0.9"/><text x="541.0" y="286.0" font-size="11.0" fill="#222" stroke="#222" stroke-width="0.3" text-anchor="middle" font-weight="normal" >Consistency reward</text><polyline points="702.7,269.0 702.7,289.4" fill="none" stroke="#111" stroke-width="1.3"/><polygon points="702.7,289.4 700.7,285.4 704.7,285.4" fill="#111"/><polyline points="615.0,281.0 599.0,281.0" fill="none" stroke="#111" stroke-width="1.3"/><polygon points="599.0,281.0 603.0,279.0 603.0,283.0" fill="#111"/><polyline points="452.0,297.7 452.0,265.5" fill="none" stroke="#111" stroke-width="1.3"/><polygon points="452.0,265.5 454.5,270.5 449.5,270.5" fill="#111"/><rect x="408.6" y="297.7" width="82.4" height="18.3" rx="2" fill="#fff64a" stroke="#333" stroke-width="0.9"/><text x="450.0" y="311.5" font-size="11.0" fill="#111" stroke="#111" stroke-width="0.3" text-anchor="middle" font-weight="normal" >RLVR trainer</text><polyline points="542.5,291.0 542.5,307.3 491.0,307.3" fill="none" stroke="#111" stroke-width="1.3"/><polygon points="491.0,307.3 496.0,304.8 496.0,309.8" fill="#111"/><rect x="613.5" y="286.0" width="190.9" height="56.3" rx="6" fill="none" stroke="#555" stroke-width="0.9" stroke-dasharray="2 1.5"/><text x="626.5" y="305.4" font-size="11.0" fill="#111" stroke="#111" stroke-width="0.3" text-anchor="start" font-weight="normal" >away</text><rect x="669.0" y="290.4" width="70.7" height="14.4" rx="2" fill="#f6e6a8" stroke="#555" stroke-width="0.8"/><text x="704.3" y="301.5" font-size="10.78" fill="#111" stroke="#111" stroke-width="0.3" text-anchor="middle" font-weight="normal" >logic score</text><text x="751.7" y="305.4" font-size="11.0" fill="#111" stroke="#111" stroke-width="0.3" text-anchor="start" font-weight="normal" >approach</text><polyline points="669.0,297.5 662.0,297.5 662.0,321.6" fill="none" stroke="#e02020" stroke-width="1.2" stroke-dasharray="2 1.5"/><polygon points="662.0,321.6 660.0,317.6 664.0,317.6" fill="#e02020"/><polyline points="739.7,297.5 746.0,297.5 746.0,321.6" fill="none" stroke="#28a050" stroke-width="1.2"/><polygon points="746.0,321.6 744.0,317.6 748.0,317.6" fill="#28a050"/><rect x="624.6" y="324.0" width="75.7" height="14.4" rx="2" fill="#f6e6a8" stroke="#555" stroke-width="0.8"/><text x="662.5" y="335.2" font-size="10.78" fill="#111" stroke="#111" stroke-width="0.3" text-anchor="middle" font-weight="normal" >logic score 1</text><rect x="705.0" y="324.0" width="84.0" height="14.4" rx="2" fill="#f6e6a8" stroke="#555" stroke-width="0.8"/><text x="747.0" y="335.2" font-size="10.78" fill="#111" stroke="#111" stroke-width="0.3" text-anchor="middle" font-weight="normal" >logic score 2</text><polyline points="623.0,361.5 623.0,349.0 662.0,349.0 662.0,339.0" fill="none" stroke="#111" stroke-width="1.3"/><polygon points="662.0,339.0 664.0,343.0 660.0,343.0" fill="#111"/><polyline points="743.0,361.5 743.0,350.0 746.0,350.0 746.0,339.0" fill="none" stroke="#111" stroke-width="1.3"/><polygon points="746.0,339.0 748.0,343.0 744.0,343.0" fill="#111"/><text x="498.4" y="340.0" font-size="11.0" fill="#111" stroke="#111" stroke-width="0.3" text-anchor="start" font-weight="normal" >JS divergence-based</text><polyline points="613.5,313.5 608.7,313.5 608.7,347.0 496.0,347.0" fill="none" stroke="#111" stroke-width="1.3"/><polygon points="496.0,347.0 501.0,344.5 501.0,349.5" fill="#111"/><rect x="408.6" y="339.0" width="87.4" height="17.7" rx="2" fill="#f0302a" stroke="#a01010" stroke-width="0.9"/><text x="452.0" y="352.5" font-size="11.0" fill="#222" stroke="#222" stroke-width="0.3" text-anchor="middle" font-weight="normal" >Logic reward</text><polyline points="452.0,339.0 452.0,316.5" fill="none" stroke="#111" stroke-width="1.3"/><polygon points="452.0,316.5 454.5,321.5 449.5,321.5" fill="#111"/><text x="405.8" y="371.0" font-size="11.0" fill="#111" stroke="#111" stroke-width="0.3" text-anchor="start" font-weight="normal" >Imitate reasoning logic</text><rect x="558.3" y="359.0" width="246.1" height="48.0" rx="6" fill="none" stroke="#555" stroke-width="0.9" stroke-dasharray="2 1.5"/><rect x="565.5" y="361.5" width="112.8" height="45.5" rx="6" fill="#c8e6d6" stroke="#7a7a50" stroke-width="0.9"/><text x="622.3" y="375.9" font-size="11.33" fill="#111" stroke="#111" stroke-width="0.3" text-anchor="middle" font-weight="normal" >Reasoning paths 1</text><circle cx="574.4" cy="383.4" r="4.7" fill="#4472c4" stroke="#1f3a70" stroke-width="0.8"/><line x1="578.4" y1="383.4" x2="590.9" y2="383.4" stroke="#4472c4" stroke-width="1.3"/><polygon points="591.4,383.4 587.9,381.4 587.9,385.4" fill="#4472c4"/><circle cx="595.9" cy="383.4" r="4.7" fill="#4472c4" stroke="#1f3a70" stroke-width="0.8"/><line x1="599.9" y1="383.4" x2="612.4" y2="383.4" stroke="#4472c4" stroke-width="1.3"/><polygon points="612.9,383.4 609.4,381.4 609.4,385.4" fill="#4472c4"/><circle cx="617.4" cy="383.4" r="4.7" fill="#4472c4" stroke="#1f3a70" stroke-width="0.8"/><line x1="621.4" y1="383.4" x2="634.0" y2="383.4" stroke="#4472c4" stroke-width="1.3"/><polygon points="634.5,383.4 631.0,381.4 631.0,385.4" fill="#4472c4"/><circle cx="639.0" cy="383.4" r="4.7" fill="#4472c4" stroke="#1f3a70" stroke-width="0.8"/><circle cx="574.4" cy="394.0" r="4.7" fill="#4472c4" stroke="#1f3a70" stroke-width="0.8"/><line x1="578.4" y1="394.0" x2="590.9" y2="394.0" stroke="#4472c4" stroke-width="1.3"/><polygon points="591.4,394.0 587.9,392.0 587.9,396.0" fill="#4472c4"/><circle cx="595.9" cy="394.0" r="4.7" fill="#4472c4" stroke="#1f3a70" stroke-width="0.8"/><line x1="599.9" y1="394.0" x2="612.4" y2="394.0" stroke="#4472c4" stroke-width="1.3"/><polygon points="612.9,394.0 609.4,392.0 609.4,396.0" fill="#4472c4"/><circle cx="617.4" cy="394.0" r="4.7" fill="#4472c4" stroke="#1f3a70" stroke-width="0.8"/><circle cx="574.4" cy="404.6" r="4.7" fill="#4472c4" stroke="#1f3a70" stroke-width="0.8"/><line x1="578.4" y1="404.6" x2="590.9" y2="404.6" stroke="#4472c4" stroke-width="1.3"/><polygon points="591.4,404.6 587.9,402.6 587.9,406.6" fill="#4472c4"/><circle cx="595.9" cy="404.6" r="4.7" fill="#4472c4" stroke="#1f3a70" stroke-width="0.8"/><line x1="599.9" y1="404.6" x2="612.4" y2="404.6" stroke="#4472c4" stroke-width="1.3"/><polygon points="612.9,404.6 609.4,402.6 609.4,406.6" fill="#4472c4"/><circle cx="617.4" cy="404.6" r="4.7" fill="#4472c4" stroke="#1f3a70" stroke-width="0.8"/><line x1="621.4" y1="404.6" x2="634.0" y2="404.6" stroke="#4472c4" stroke-width="1.3"/><polygon points="634.5,404.6 631.0,402.6 631.0,406.6" fill="#4472c4"/><circle cx="639.0" cy="404.6" r="4.7" fill="#4472c4" stroke="#1f3a70" stroke-width="0.8"/><line x1="643.0" y1="404.6" x2="655.5" y2="404.6" stroke="#4472c4" stroke-width="1.3"/><polygon points="656.0,404.6 652.5,402.6 652.5,406.6" fill="#4472c4"/><circle cx="660.5" cy="404.6" r="4.7" fill="#4472c4" stroke="#1f3a70" stroke-width="0.8"/><circle cx="664.3" cy="388.5" r="9.5" fill="#e0607e" stroke="#333" stroke-width="0.9"/><circle cx="664.3" cy="388.5" r="4.275" fill="#fff"/><path d="M661.8 386.0 l5 5 M666.8 386.0 l-5 5" stroke="#e0607e" stroke-width="1.6"/><rect x="688.3" y="361.5" width="109.4" height="45.5" rx="6" fill="#f3c9a0" stroke="#e8d8c0" stroke-width="0.9"/><text x="743.2" y="375.9" font-size="11.33" fill="#111" stroke="#111" stroke-width="0.3" text-anchor="middle" font-weight="normal" >Reasoning paths 2</text><circle cx="695.8" cy="383.4" r="4.7" fill="#ed7d31" stroke="#7a3a10" stroke-width="0.8"/><line x1="699.8" y1="383.4" x2="712.0" y2="383.4" stroke="#ed7d31" stroke-width="1.3"/><polygon points="712.5,383.4 709.0,381.4 709.0,385.4" fill="#ed7d31"/><circle cx="717.0" cy="383.4" r="4.7" fill="#ed7d31" stroke="#7a3a10" stroke-width="0.8"/><line x1="721.0" y1="383.4" x2="733.5" y2="383.4" stroke="#ed7d31" stroke-width="1.3"/><polygon points="734.0,383.4 730.5,381.4 730.5,385.4" fill="#ed7d31"/><circle cx="738.5" cy="383.4" r="4.7" fill="#ed7d31" stroke="#7a3a10" stroke-width="0.8"/><circle cx="695.8" cy="394.0" r="4.7" fill="#ed7d31" stroke="#7a3a10" stroke-width="0.8"/><line x1="699.8" y1="394.0" x2="712.0" y2="394.0" stroke="#ed7d31" stroke-width="1.3"/><polygon points="712.5,394.0 709.0,392.0 709.0,396.0" fill="#ed7d31"/><circle cx="717.0" cy="394.0" r="4.7" fill="#ed7d31" stroke="#7a3a10" stroke-width="0.8"/><line x1="721.0" y1="394.0" x2="733.5" y2="394.0" stroke="#ed7d31" stroke-width="1.3"/><polygon points="734.0,394.0 730.5,392.0 730.5,396.0" fill="#ed7d31"/><circle cx="738.5" cy="394.0" r="4.7" fill="#ed7d31" stroke="#7a3a10" stroke-width="0.8"/><line x1="742.5" y1="394.0" x2="755.0" y2="394.0" stroke="#ed7d31" stroke-width="1.3"/><polygon points="755.5,394.0 752.0,392.0 752.0,396.0" fill="#ed7d31"/><circle cx="760.0" cy="394.0" r="4.7" fill="#ed7d31" stroke="#7a3a10" stroke-width="0.8"/><circle cx="695.8" cy="404.6" r="4.7" fill="#ed7d31" stroke="#7a3a10" stroke-width="0.8"/><line x1="699.8" y1="404.6" x2="712.0" y2="404.6" stroke="#ed7d31" stroke-width="1.3"/><polygon points="712.5,404.6 709.0,402.6 709.0,406.6" fill="#ed7d31"/><circle cx="717.0" cy="404.6" r="4.7" fill="#ed7d31" stroke="#7a3a10" stroke-width="0.8"/><line x1="721.0" y1="404.6" x2="733.5" y2="404.6" stroke="#ed7d31" stroke-width="1.3"/><polygon points="734.0,404.6 730.5,402.6 730.5,406.6" fill="#ed7d31"/><circle cx="738.5" cy="404.6" r="4.7" fill="#ed7d31" stroke="#7a3a10" stroke-width="0.8"/><circle cx="784.6" cy="388.5" r="10" fill="#8dc63f" stroke="#333" stroke-width="0.9"/><path d="M780.1 388.5 l3 3 l6 -6" stroke="#fff" stroke-width="2.2" fill="none"/></svg>
<svg style="position:absolute;left:3708px;top:0" width="927" height="1200"><path d="M433.0 593.5 h19 l0.8 5 h-1 q-1 -3 -4 -3 h-11 l9 10.5 l-10 11.5 h12 q3 0 4.5 -3.5 h1 l-1.5 5.5 h-20 l11 -13.5z" fill="#000"/></svg>
<div style="position:absolute;left:3708px;top:0;width:927px;height:1200px"><div style="position:absolute;left:462.0px;top:751px;width:77px;height:1px;background:#000"></div></div>
</body></html>
